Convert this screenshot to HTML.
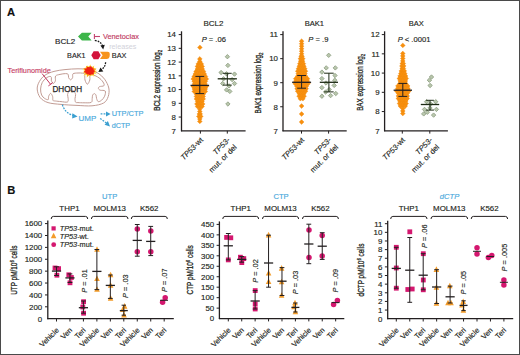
<!DOCTYPE html>
<html><head><meta charset="utf-8"><style>
html,body{margin:0;padding:0;background:#fff;}
svg{display:block;font-family:"Liberation Sans", sans-serif;}
</style></head><body>
<svg width="520" height="355" viewBox="0 0 520 355">
<rect x="0" y="0" width="520" height="355" fill="#ffffff"/>
<text x="7.00" y="16.20" font-size="11.2" fill="#111" text-anchor="start" stroke="#111" stroke-width="0.15" font-weight="bold">A</text>
<text x="7.30" y="193.80" font-size="11.2" fill="#111" text-anchor="start" stroke="#111" stroke-width="0.15" font-weight="bold">B</text>
<text x="55.00" y="43.50" font-size="8" fill="#1e1e1e" text-anchor="start" stroke="#1e1e1e" stroke-width="0.15" textLength="20.20" lengthAdjust="spacingAndGlyphs">BCL2</text>
<text x="67.10" y="57.70" font-size="8" fill="#1e1e1e" text-anchor="start" stroke="#1e1e1e" stroke-width="0.15" textLength="18.50" lengthAdjust="spacingAndGlyphs">BAK1</text>
<text x="111.80" y="57.70" font-size="8" fill="#1e1e1e" text-anchor="start" stroke="#1e1e1e" stroke-width="0.15" textLength="14.70" lengthAdjust="spacingAndGlyphs">BAX</text>
<text x="102.90" y="39.20" font-size="8" fill="#c23a62" text-anchor="start" stroke="#c23a62" stroke-width="0.15" textLength="36.10" lengthAdjust="spacingAndGlyphs">Venetoclax</text>
<text x="109.20" y="48.70" font-size="7.4" fill="#d2d2da" text-anchor="start" textLength="27.20" lengthAdjust="spacingAndGlyphs">releases</text>
<text x="7.50" y="72.90" font-size="8" fill="#c63c64" text-anchor="start" stroke="#c63c64" stroke-width="0.15" textLength="43.30" lengthAdjust="spacingAndGlyphs">Teriflunomide</text>
<text x="78.50" y="120.80" font-size="7.8" fill="#4aa9dc" text-anchor="start" stroke="#4aa9dc" stroke-width="0.15" textLength="17.70" lengthAdjust="spacingAndGlyphs">UMP</text>
<text x="111.70" y="115.90" font-size="7.6" fill="#4aa9dc" text-anchor="start" stroke="#4aa9dc" stroke-width="0.15" textLength="31.80" lengthAdjust="spacingAndGlyphs">UTP/CTP</text>
<text x="111.70" y="127.70" font-size="7.6" fill="#4aa9dc" text-anchor="start" stroke="#4aa9dc" stroke-width="0.15" textLength="18.50" lengthAdjust="spacingAndGlyphs">dCTP</text>
<polygon points="78.0,36.6 81.9,32.7 91.6,32.7 88.3,36.6 91.6,40.5 81.9,40.5" fill="#3db54a"/>
<line x1="94.40" y1="34.00" x2="94.40" y2="39.00" stroke="#c2456e" stroke-width="1.1"/>
<line x1="94.40" y1="36.50" x2="100.00" y2="36.50" stroke="#c2456e" stroke-width="1.1"/>
<path d="M94.8,40.4 Q101.2,41.6 102.6,46.0" fill="none" stroke="#1a1a1a" stroke-width="1.3" stroke-dasharray="1.7,1.1"/>
<polygon points="100.4,45.4 104.8,44.8 103.2,49.4" fill="#1a1a1a"/>
<polygon points="100.70,55.20 98.35,59.27 93.65,59.27 91.30,55.20 93.65,51.13 98.35,51.13" fill="#d3143c"/>
<path d="M100.0,51.8 L107.6,51.8 Q109.9,51.8 109.8,54.0 L109.6,56.6 Q109.4,58.9 107.0,58.9 L100.0,58.9 L102.6,55.35 Z" fill="#f7941d"/>
<path d="M37.20,89.00 C37.07,86.32 38.10,83.80 39.40,81.50 C40.70,79.20 42.57,76.88 45.00,75.20 C47.43,73.52 50.67,72.33 54.00,71.40 C57.33,70.47 61.00,70.03 65.00,69.60 C69.00,69.17 74.00,68.80 78.00,68.80 C82.00,68.80 85.67,68.87 89.00,69.60 C92.33,70.33 95.40,71.60 98.00,73.20 C100.60,74.80 102.80,76.73 104.60,79.20 C106.40,81.67 108.20,85.10 108.80,88.00 C109.40,90.90 109.07,94.10 108.20,96.60 C107.33,99.10 106.30,101.47 103.60,103.00 C100.90,104.53 96.43,105.40 92.00,105.80 C87.57,106.20 82.17,105.63 77.00,105.40 C71.83,105.17 65.83,104.87 61.00,104.40 C56.17,103.93 51.47,103.73 48.00,102.60 C44.53,101.47 42.00,99.87 40.20,97.60 C38.40,95.33 37.33,91.68 37.20,89.00 Z" fill="#fff" stroke="#c29c94" stroke-width="1.0"/>
<path d="M40.60,89.00 C40.70,86.93 41.27,84.43 42.20,82.60 C43.13,80.77 44.93,79.03 46.20,78.00 C47.47,76.97 48.93,76.50 49.80,76.40 C50.67,76.30 51.13,76.67 51.40,77.40 C51.67,78.13 51.07,79.80 51.40,80.80 C51.73,81.80 52.73,83.40 53.40,83.40 C54.07,83.40 55.03,82.03 55.40,80.80 C55.77,79.57 54.83,77.07 55.60,76.00 C56.37,74.93 58.35,74.80 60.00,74.40 C61.65,74.00 64.13,73.60 65.50,73.60 C66.87,73.60 67.68,73.73 68.20,74.40 C68.72,75.07 68.20,76.70 68.60,77.60 C69.00,78.50 69.93,79.80 70.60,79.80 C71.27,79.80 72.20,78.60 72.60,77.60 C73.00,76.60 72.10,74.57 73.00,73.80 C73.90,73.03 76.42,73.10 78.00,73.00 C79.58,72.90 81.40,72.93 82.50,73.20 C83.60,73.47 84.18,73.47 84.60,74.60 C85.02,75.73 84.53,78.40 85.00,80.00 C85.47,81.60 86.60,84.20 87.40,84.20 C88.20,84.20 89.33,81.57 89.80,80.00 C90.27,78.43 89.33,75.53 90.20,74.80 C91.07,74.07 93.37,74.97 95.00,75.60 C96.63,76.23 98.57,77.37 100.00,78.60 C101.43,79.83 102.97,81.80 103.60,83.00 C104.23,84.20 104.47,85.20 103.80,85.80 C103.13,86.40 100.50,86.17 99.60,86.60 C98.70,87.03 98.30,87.80 98.40,88.40 C98.50,89.00 99.07,89.77 100.20,90.20 C101.33,90.63 104.47,90.00 105.20,91.00 C105.93,92.00 105.20,94.67 104.60,96.20 C104.00,97.73 102.67,99.30 101.60,100.20 C100.53,101.10 99.03,101.87 98.20,101.60 C97.37,101.33 96.97,99.67 96.60,98.60 C96.23,97.53 96.37,96.03 96.00,95.20 C95.63,94.37 94.97,93.60 94.40,93.60 C93.83,93.60 92.97,94.37 92.60,95.20 C92.23,96.03 92.43,97.40 92.20,98.60 C91.97,99.80 92.57,101.70 91.20,102.40 C89.83,103.10 86.20,102.77 84.00,102.80 C81.80,102.83 79.40,102.70 78.00,102.60 C76.60,102.50 76.10,102.87 75.60,102.20 C75.10,101.53 75.00,99.90 75.00,98.60 C75.00,97.30 75.87,95.70 75.60,94.40 C75.33,93.10 74.37,91.40 73.40,90.80 C72.43,90.20 70.77,90.20 69.80,90.80 C68.83,91.40 67.87,93.10 67.60,94.40 C67.33,95.70 68.23,97.33 68.20,98.60 C68.17,99.87 68.60,101.50 67.40,102.00 C66.20,102.50 63.00,101.77 61.00,101.60 C59.00,101.43 56.73,101.20 55.40,101.00 C54.07,100.80 53.47,101.17 53.00,100.40 C52.53,99.63 53.00,97.57 52.60,96.40 C52.20,95.23 51.27,93.40 50.60,93.40 C49.93,93.40 49.00,95.37 48.60,96.40 C48.20,97.43 48.87,99.27 48.20,99.60 C47.53,99.93 45.70,99.17 44.60,98.40 C43.50,97.63 42.27,96.57 41.60,95.00 C40.93,93.43 40.50,91.07 40.60,89.00 Z" fill="#fff" stroke="#c29c94" stroke-width="1.0"/>
<line x1="42.10" y1="73.60" x2="50.60" y2="84.30" stroke="#c2355e" stroke-width="1.0"/>
<line x1="48.40" y1="85.90" x2="52.80" y2="82.60" stroke="#c2355e" stroke-width="1.0"/>
<text x="52.40" y="91.70" font-size="8.2" fill="#262626" text-anchor="start" stroke="#262626" stroke-width="0.25" textLength="29.80" lengthAdjust="spacingAndGlyphs">DHODH</text>
<polygon points="97.59,71.10 94.79,72.15 97.03,74.32 93.76,74.11 94.33,76.72 91.62,75.34 90.49,76.57 89.10,75.26 86.65,77.84 86.77,74.66 83.33,75.83 85.55,72.93 82.37,72.61 84.89,71.10 82.21,69.55 85.19,69.12 84.80,67.47 86.98,67.80 87.17,65.51 89.05,66.61 90.69,64.27 91.38,67.39 94.40,65.39 93.23,68.48 96.68,68.03 94.26,70.16" fill="#fde65c"/>
<polygon points="96.19,72.09 93.89,72.85 93.96,74.47 92.18,74.73 90.92,75.64 89.32,75.05 87.05,76.85 86.89,74.06 84.13,74.45 84.90,72.50 83.73,71.41 84.84,70.21 83.23,68.25 86.08,68.20 86.04,65.84 88.54,67.27 89.96,65.87 91.16,67.42 93.60,66.49 93.79,68.36 96.10,68.93 94.75,70.64" fill="#f9a01c"/>
<polygon points="94.84,71.34 93.55,72.50 93.74,74.47 91.39,74.35 89.89,75.19 88.36,74.21 86.48,74.35 86.04,72.83 83.53,72.15 85.40,70.56 84.26,68.82 86.59,68.44 87.27,66.84 89.18,67.36 91.22,65.89 92.09,67.94 93.59,68.61 93.59,70.05" fill="#f01e14"/>
<path d="M105.6,62.2 Q105.2,67.6 101.2,69.6" fill="none" stroke="#1a1a1a" stroke-width="1.3" stroke-dasharray="1.7,1.1"/>
<polygon points="100.5,67.6 103.3,71.6 98.3,71.9" fill="#1a1a1a"/>
<path d="M62.4,104.6 Q64.6,112.8 73.6,115.6" fill="none" stroke="#3a9fd0" stroke-width="1.3" stroke-dasharray="1.8,1.2"/>
<polygon points="72.4,113.2 77.6,116.6 72.2,118.4" fill="#3a9fd0"/>
<path d="M100.6,113.9 L106.8,113.9" fill="none" stroke="#3a9fd0" stroke-width="1.3" stroke-dasharray="1.8,1.2"/>
<polygon points="106.0,111.4 110.6,113.9 106.0,116.4" fill="#3a9fd0"/>
<path d="M100.2,118.4 L106.6,123.2" fill="none" stroke="#3a9fd0" stroke-width="1.3" stroke-dasharray="1.8,1.2"/>
<polygon points="104.6,124.8 107.9,121.0 110.0,126.4" fill="#3a9fd0"/>
<polygon points="199.80,56.50 202.20,58.90 199.80,61.30 197.40,58.90" fill="#f8900f" stroke="#ee880c" stroke-width="0.35"/>
<polygon points="199.80,59.00 202.20,61.40 199.80,63.80 197.40,61.40" fill="#f8900f" stroke="#ee880c" stroke-width="0.35"/>
<polygon points="198.26,61.50 200.66,63.90 198.26,66.30 195.86,63.90" fill="#f8900f" stroke="#ee880c" stroke-width="0.35"/>
<polygon points="199.80,61.50 202.20,63.90 199.80,66.30 197.40,63.90" fill="#f8900f" stroke="#ee880c" stroke-width="0.35"/>
<polygon points="201.34,61.50 203.74,63.90 201.34,66.30 198.94,63.90" fill="#f8900f" stroke="#ee880c" stroke-width="0.35"/>
<polygon points="197.43,64.00 199.83,66.40 197.43,68.80 195.03,66.40" fill="#f8900f" stroke="#ee880c" stroke-width="0.35"/>
<polygon points="199.80,64.00 202.20,66.40 199.80,68.80 197.40,66.40" fill="#f8900f" stroke="#ee880c" stroke-width="0.35"/>
<polygon points="202.17,64.00 204.57,66.40 202.17,68.80 199.77,66.40" fill="#f8900f" stroke="#ee880c" stroke-width="0.35"/>
<polygon points="197.36,66.50 199.76,68.90 197.36,71.30 194.96,68.90" fill="#f8900f" stroke="#ee880c" stroke-width="0.35"/>
<polygon points="199.80,66.50 202.20,68.90 199.80,71.30 197.40,68.90" fill="#f8900f" stroke="#ee880c" stroke-width="0.35"/>
<polygon points="202.24,66.50 204.64,68.90 202.24,71.30 199.84,68.90" fill="#f8900f" stroke="#ee880c" stroke-width="0.35"/>
<polygon points="196.09,69.00 198.49,71.40 196.09,73.80 193.69,71.40" fill="#f8900f" stroke="#ee880c" stroke-width="0.35"/>
<polygon points="198.56,69.00 200.96,71.40 198.56,73.80 196.16,71.40" fill="#f8900f" stroke="#ee880c" stroke-width="0.35"/>
<polygon points="201.04,69.00 203.44,71.40 201.04,73.80 198.64,71.40" fill="#f8900f" stroke="#ee880c" stroke-width="0.35"/>
<polygon points="203.51,69.00 205.91,71.40 203.51,73.80 201.11,71.40" fill="#f8900f" stroke="#ee880c" stroke-width="0.35"/>
<polygon points="195.27,71.50 197.67,73.90 195.27,76.30 192.87,73.90" fill="#f8900f" stroke="#ee880c" stroke-width="0.35"/>
<polygon points="197.53,71.50 199.93,73.90 197.53,76.30 195.13,73.90" fill="#f8900f" stroke="#ee880c" stroke-width="0.35"/>
<polygon points="199.80,71.50 202.20,73.90 199.80,76.30 197.40,73.90" fill="#f8900f" stroke="#ee880c" stroke-width="0.35"/>
<polygon points="202.07,71.50 204.47,73.90 202.07,76.30 199.67,73.90" fill="#f8900f" stroke="#ee880c" stroke-width="0.35"/>
<polygon points="204.33,71.50 206.73,73.90 204.33,76.30 201.93,73.90" fill="#f8900f" stroke="#ee880c" stroke-width="0.35"/>
<polygon points="194.16,74.00 196.56,76.40 194.16,78.80 191.76,76.40" fill="#f8900f" stroke="#ee880c" stroke-width="0.35"/>
<polygon points="196.42,74.00 198.82,76.40 196.42,78.80 194.02,76.40" fill="#f8900f" stroke="#ee880c" stroke-width="0.35"/>
<polygon points="198.67,74.00 201.07,76.40 198.67,78.80 196.27,76.40" fill="#f8900f" stroke="#ee880c" stroke-width="0.35"/>
<polygon points="200.93,74.00 203.33,76.40 200.93,78.80 198.53,76.40" fill="#f8900f" stroke="#ee880c" stroke-width="0.35"/>
<polygon points="203.18,74.00 205.58,76.40 203.18,78.80 200.78,76.40" fill="#f8900f" stroke="#ee880c" stroke-width="0.35"/>
<polygon points="205.44,74.00 207.84,76.40 205.44,78.80 203.04,76.40" fill="#f8900f" stroke="#ee880c" stroke-width="0.35"/>
<polygon points="193.21,76.50 195.61,78.90 193.21,81.30 190.81,78.90" fill="#f8900f" stroke="#ee880c" stroke-width="0.35"/>
<polygon points="195.85,76.50 198.25,78.90 195.85,81.30 193.45,78.90" fill="#f8900f" stroke="#ee880c" stroke-width="0.35"/>
<polygon points="198.48,76.50 200.88,78.90 198.48,81.30 196.08,78.90" fill="#f8900f" stroke="#ee880c" stroke-width="0.35"/>
<polygon points="201.12,76.50 203.52,78.90 201.12,81.30 198.72,78.90" fill="#f8900f" stroke="#ee880c" stroke-width="0.35"/>
<polygon points="203.75,76.50 206.15,78.90 203.75,81.30 201.35,78.90" fill="#f8900f" stroke="#ee880c" stroke-width="0.35"/>
<polygon points="206.39,76.50 208.79,78.90 206.39,81.30 203.99,78.90" fill="#f8900f" stroke="#ee880c" stroke-width="0.35"/>
<polygon points="194.24,79.00 196.64,81.40 194.24,83.80 191.84,81.40" fill="#f8900f" stroke="#ee880c" stroke-width="0.35"/>
<polygon points="196.47,79.00 198.87,81.40 196.47,83.80 194.07,81.40" fill="#f8900f" stroke="#ee880c" stroke-width="0.35"/>
<polygon points="198.69,79.00 201.09,81.40 198.69,83.80 196.29,81.40" fill="#f8900f" stroke="#ee880c" stroke-width="0.35"/>
<polygon points="200.91,79.00 203.31,81.40 200.91,83.80 198.51,81.40" fill="#f8900f" stroke="#ee880c" stroke-width="0.35"/>
<polygon points="203.13,79.00 205.53,81.40 203.13,83.80 200.73,81.40" fill="#f8900f" stroke="#ee880c" stroke-width="0.35"/>
<polygon points="205.36,79.00 207.76,81.40 205.36,83.80 202.96,81.40" fill="#f8900f" stroke="#ee880c" stroke-width="0.35"/>
<polygon points="194.47,81.50 196.87,83.90 194.47,86.30 192.07,83.90" fill="#f8900f" stroke="#ee880c" stroke-width="0.35"/>
<polygon points="197.14,81.50 199.54,83.90 197.14,86.30 194.74,83.90" fill="#f8900f" stroke="#ee880c" stroke-width="0.35"/>
<polygon points="199.80,81.50 202.20,83.90 199.80,86.30 197.40,83.90" fill="#f8900f" stroke="#ee880c" stroke-width="0.35"/>
<polygon points="202.46,81.50 204.86,83.90 202.46,86.30 200.06,83.90" fill="#f8900f" stroke="#ee880c" stroke-width="0.35"/>
<polygon points="205.13,81.50 207.53,83.90 205.13,86.30 202.73,83.90" fill="#f8900f" stroke="#ee880c" stroke-width="0.35"/>
<polygon points="193.30,84.00 195.70,86.40 193.30,88.80 190.90,86.40" fill="#f8900f" stroke="#ee880c" stroke-width="0.35"/>
<polygon points="195.90,84.00 198.30,86.40 195.90,88.80 193.50,86.40" fill="#f8900f" stroke="#ee880c" stroke-width="0.35"/>
<polygon points="198.50,84.00 200.90,86.40 198.50,88.80 196.10,86.40" fill="#f8900f" stroke="#ee880c" stroke-width="0.35"/>
<polygon points="201.10,84.00 203.50,86.40 201.10,88.80 198.70,86.40" fill="#f8900f" stroke="#ee880c" stroke-width="0.35"/>
<polygon points="203.70,84.00 206.10,86.40 203.70,88.80 201.30,86.40" fill="#f8900f" stroke="#ee880c" stroke-width="0.35"/>
<polygon points="206.30,84.00 208.70,86.40 206.30,88.80 203.90,86.40" fill="#f8900f" stroke="#ee880c" stroke-width="0.35"/>
<polygon points="194.27,86.50 196.67,88.90 194.27,91.30 191.87,88.90" fill="#f8900f" stroke="#ee880c" stroke-width="0.35"/>
<polygon points="196.48,86.50 198.88,88.90 196.48,91.30 194.08,88.90" fill="#f8900f" stroke="#ee880c" stroke-width="0.35"/>
<polygon points="198.69,86.50 201.09,88.90 198.69,91.30 196.29,88.90" fill="#f8900f" stroke="#ee880c" stroke-width="0.35"/>
<polygon points="200.91,86.50 203.31,88.90 200.91,91.30 198.51,88.90" fill="#f8900f" stroke="#ee880c" stroke-width="0.35"/>
<polygon points="203.12,86.50 205.52,88.90 203.12,91.30 200.72,88.90" fill="#f8900f" stroke="#ee880c" stroke-width="0.35"/>
<polygon points="205.33,86.50 207.73,88.90 205.33,91.30 202.93,88.90" fill="#f8900f" stroke="#ee880c" stroke-width="0.35"/>
<polygon points="194.26,89.00 196.66,91.40 194.26,93.80 191.86,91.40" fill="#f8900f" stroke="#ee880c" stroke-width="0.35"/>
<polygon points="196.47,89.00 198.87,91.40 196.47,93.80 194.07,91.40" fill="#f8900f" stroke="#ee880c" stroke-width="0.35"/>
<polygon points="198.69,89.00 201.09,91.40 198.69,93.80 196.29,91.40" fill="#f8900f" stroke="#ee880c" stroke-width="0.35"/>
<polygon points="200.91,89.00 203.31,91.40 200.91,93.80 198.51,91.40" fill="#f8900f" stroke="#ee880c" stroke-width="0.35"/>
<polygon points="203.13,89.00 205.53,91.40 203.13,93.80 200.73,91.40" fill="#f8900f" stroke="#ee880c" stroke-width="0.35"/>
<polygon points="205.34,89.00 207.74,91.40 205.34,93.80 202.94,91.40" fill="#f8900f" stroke="#ee880c" stroke-width="0.35"/>
<polygon points="196.20,91.50 198.60,93.90 196.20,96.30 193.80,93.90" fill="#f8900f" stroke="#ee880c" stroke-width="0.35"/>
<polygon points="198.60,91.50 201.00,93.90 198.60,96.30 196.20,93.90" fill="#f8900f" stroke="#ee880c" stroke-width="0.35"/>
<polygon points="201.00,91.50 203.40,93.90 201.00,96.30 198.60,93.90" fill="#f8900f" stroke="#ee880c" stroke-width="0.35"/>
<polygon points="203.40,91.50 205.80,93.90 203.40,96.30 201.00,93.90" fill="#f8900f" stroke="#ee880c" stroke-width="0.35"/>
<polygon points="196.39,94.00 198.79,96.40 196.39,98.80 193.99,96.40" fill="#f8900f" stroke="#ee880c" stroke-width="0.35"/>
<polygon points="198.66,94.00 201.06,96.40 198.66,98.80 196.26,96.40" fill="#f8900f" stroke="#ee880c" stroke-width="0.35"/>
<polygon points="200.94,94.00 203.34,96.40 200.94,98.80 198.54,96.40" fill="#f8900f" stroke="#ee880c" stroke-width="0.35"/>
<polygon points="203.21,94.00 205.61,96.40 203.21,98.80 200.81,96.40" fill="#f8900f" stroke="#ee880c" stroke-width="0.35"/>
<polygon points="196.38,96.50 198.78,98.90 196.38,101.30 193.98,98.90" fill="#f8900f" stroke="#ee880c" stroke-width="0.35"/>
<polygon points="198.66,96.50 201.06,98.90 198.66,101.30 196.26,98.90" fill="#f8900f" stroke="#ee880c" stroke-width="0.35"/>
<polygon points="200.94,96.50 203.34,98.90 200.94,101.30 198.54,98.90" fill="#f8900f" stroke="#ee880c" stroke-width="0.35"/>
<polygon points="203.22,96.50 205.62,98.90 203.22,101.30 200.82,98.90" fill="#f8900f" stroke="#ee880c" stroke-width="0.35"/>
<polygon points="197.60,99.00 200.00,101.40 197.60,103.80 195.20,101.40" fill="#f8900f" stroke="#ee880c" stroke-width="0.35"/>
<polygon points="199.80,99.00 202.20,101.40 199.80,103.80 197.40,101.40" fill="#f8900f" stroke="#ee880c" stroke-width="0.35"/>
<polygon points="202.00,99.00 204.40,101.40 202.00,103.80 199.60,101.40" fill="#f8900f" stroke="#ee880c" stroke-width="0.35"/>
<polygon points="196.89,101.50 199.29,103.90 196.89,106.30 194.49,103.90" fill="#f8900f" stroke="#ee880c" stroke-width="0.35"/>
<polygon points="198.83,101.50 201.23,103.90 198.83,106.30 196.43,103.90" fill="#f8900f" stroke="#ee880c" stroke-width="0.35"/>
<polygon points="200.77,101.50 203.17,103.90 200.77,106.30 198.37,103.90" fill="#f8900f" stroke="#ee880c" stroke-width="0.35"/>
<polygon points="202.71,101.50 205.11,103.90 202.71,106.30 200.31,103.90" fill="#f8900f" stroke="#ee880c" stroke-width="0.35"/>
<polygon points="197.52,104.00 199.92,106.40 197.52,108.80 195.12,106.40" fill="#f8900f" stroke="#ee880c" stroke-width="0.35"/>
<polygon points="199.80,104.00 202.20,106.40 199.80,108.80 197.40,106.40" fill="#f8900f" stroke="#ee880c" stroke-width="0.35"/>
<polygon points="202.08,104.00 204.48,106.40 202.08,108.80 199.68,106.40" fill="#f8900f" stroke="#ee880c" stroke-width="0.35"/>
<polygon points="199.80,106.50 202.20,108.90 199.80,111.30 197.40,108.90" fill="#f8900f" stroke="#ee880c" stroke-width="0.35"/>
<polygon points="199.80,109.00 202.20,111.40 199.80,113.80 197.40,111.40" fill="#f8900f" stroke="#ee880c" stroke-width="0.35"/>
<polygon points="199.35,111.50 201.75,113.90 199.35,116.30 196.95,113.90" fill="#f8900f" stroke="#ee880c" stroke-width="0.35"/>
<polygon points="200.25,111.50 202.65,113.90 200.25,116.30 197.85,113.90" fill="#f8900f" stroke="#ee880c" stroke-width="0.35"/>
<polygon points="198.83,114.00 201.23,116.40 198.83,118.80 196.43,116.40" fill="#f8900f" stroke="#ee880c" stroke-width="0.35"/>
<polygon points="200.77,114.00 203.17,116.40 200.77,118.80 198.37,116.40" fill="#f8900f" stroke="#ee880c" stroke-width="0.35"/>
<polygon points="199.80,116.50 202.20,118.90 199.80,121.30 197.40,118.90" fill="#f8900f" stroke="#ee880c" stroke-width="0.35"/>
<polygon points="199.80,119.00 202.20,121.40 199.80,123.80 197.40,121.40" fill="#f8900f" stroke="#ee880c" stroke-width="0.35"/>
<polygon points="199.90,45.00 202.30,47.40 199.90,49.80 197.50,47.40" fill="#f8900f" stroke="#ee880c" stroke-width="0.35"/>
<polygon points="227.40,54.50 229.60,56.70 227.40,58.90 225.20,56.70" fill="#b9c6ad" stroke="#8a9c7e" stroke-width="0.8"/>
<polygon points="227.90,63.20 230.10,65.40 227.90,67.60 225.70,65.40" fill="#b9c6ad" stroke="#8a9c7e" stroke-width="0.8"/>
<polygon points="221.10,70.30 223.30,72.50 221.10,74.70 218.90,72.50" fill="#b9c6ad" stroke="#8a9c7e" stroke-width="0.8"/>
<polygon points="226.50,71.60 228.70,73.80 226.50,76.00 224.30,73.80" fill="#b9c6ad" stroke="#8a9c7e" stroke-width="0.8"/>
<polygon points="234.50,71.90 236.70,74.10 234.50,76.30 232.30,74.10" fill="#b9c6ad" stroke="#8a9c7e" stroke-width="0.8"/>
<polygon points="223.50,76.60 225.70,78.80 223.50,81.00 221.30,78.80" fill="#b9c6ad" stroke="#8a9c7e" stroke-width="0.8"/>
<polygon points="232.10,77.40 234.30,79.60 232.10,81.80 229.90,79.60" fill="#b9c6ad" stroke="#8a9c7e" stroke-width="0.8"/>
<polygon points="222.70,81.30 224.90,83.50 222.70,85.70 220.50,83.50" fill="#b9c6ad" stroke="#8a9c7e" stroke-width="0.8"/>
<polygon points="234.50,81.30 236.70,83.50 234.50,85.70 232.30,83.50" fill="#b9c6ad" stroke="#8a9c7e" stroke-width="0.8"/>
<polygon points="229.00,83.70 231.20,85.90 229.00,88.10 226.80,85.90" fill="#b9c6ad" stroke="#8a9c7e" stroke-width="0.8"/>
<polygon points="226.60,87.70 228.80,89.90 226.60,92.10 224.40,89.90" fill="#b9c6ad" stroke="#8a9c7e" stroke-width="0.8"/>
<polygon points="229.80,89.20 232.00,91.40 229.80,93.60 227.60,91.40" fill="#b9c6ad" stroke="#8a9c7e" stroke-width="0.8"/>
<polygon points="227.90,101.80 230.10,104.00 227.90,106.20 225.70,104.00" fill="#b9c6ad" stroke="#8a9c7e" stroke-width="0.8"/>
<line x1="199.80" y1="76.40" x2="199.80" y2="93.60" stroke="#231f20" stroke-width="1.0"/>
<line x1="190.50" y1="85.40" x2="209.10" y2="85.40" stroke="#231f20" stroke-width="1.3"/>
<line x1="195.40" y1="76.40" x2="204.20" y2="76.40" stroke="#231f20" stroke-width="1.0"/>
<line x1="195.40" y1="93.60" x2="204.20" y2="93.60" stroke="#231f20" stroke-width="1.0"/>
<line x1="227.30" y1="73.30" x2="227.30" y2="85.10" stroke="#1d2a14" stroke-width="1.0"/>
<line x1="217.70" y1="78.80" x2="236.90" y2="78.80" stroke="#1d2a14" stroke-width="1.3"/>
<line x1="222.90" y1="73.30" x2="231.70" y2="73.30" stroke="#1d2a14" stroke-width="1.0"/>
<line x1="222.90" y1="85.10" x2="231.70" y2="85.10" stroke="#1d2a14" stroke-width="1.0"/>
<line x1="181.50" y1="31.30" x2="181.50" y2="131.30" stroke="#231f20" stroke-width="1.3"/>
<line x1="181.00" y1="130.80" x2="245.60" y2="130.80" stroke="#231f20" stroke-width="1.3"/>
<text x="176.00" y="133.60" font-size="7.9" fill="#231f20" text-anchor="end" stroke="#231f20" stroke-width="0.15">7</text>
<line x1="178.70" y1="117.06" x2="181.50" y2="117.06" stroke="#231f20" stroke-width="1.0"/>
<text x="176.00" y="119.86" font-size="7.9" fill="#231f20" text-anchor="end" stroke="#231f20" stroke-width="0.15">8</text>
<line x1="178.70" y1="103.31" x2="181.50" y2="103.31" stroke="#231f20" stroke-width="1.0"/>
<text x="176.00" y="106.11" font-size="7.9" fill="#231f20" text-anchor="end" stroke="#231f20" stroke-width="0.15">9</text>
<line x1="178.70" y1="89.57" x2="181.50" y2="89.57" stroke="#231f20" stroke-width="1.0"/>
<text x="176.00" y="92.37" font-size="7.9" fill="#231f20" text-anchor="end" stroke="#231f20" stroke-width="0.15">10</text>
<line x1="178.70" y1="75.83" x2="181.50" y2="75.83" stroke="#231f20" stroke-width="1.0"/>
<text x="176.00" y="78.63" font-size="7.9" fill="#231f20" text-anchor="end" stroke="#231f20" stroke-width="0.15">11</text>
<line x1="178.70" y1="62.09" x2="181.50" y2="62.09" stroke="#231f20" stroke-width="1.0"/>
<text x="176.00" y="64.89" font-size="7.9" fill="#231f20" text-anchor="end" stroke="#231f20" stroke-width="0.15">12</text>
<line x1="178.70" y1="48.34" x2="181.50" y2="48.34" stroke="#231f20" stroke-width="1.0"/>
<text x="176.00" y="51.14" font-size="7.9" fill="#231f20" text-anchor="end" stroke="#231f20" stroke-width="0.15">13</text>
<line x1="178.70" y1="34.60" x2="181.50" y2="34.60" stroke="#231f20" stroke-width="1.0"/>
<text x="176.00" y="37.40" font-size="7.9" fill="#231f20" text-anchor="end" stroke="#231f20" stroke-width="0.15">14</text>
<line x1="200.40" y1="130.80" x2="200.40" y2="133.60" stroke="#231f20" stroke-width="1.0"/>
<line x1="227.30" y1="130.80" x2="227.30" y2="133.60" stroke="#231f20" stroke-width="1.0"/>
<text x="213.50" y="26.40" font-size="7.6" fill="#231f20" text-anchor="middle" stroke="#231f20" stroke-width="0.15" textLength="20.00" lengthAdjust="spacingAndGlyphs">BCL2</text>
<text x="213.80" y="42.00" font-size="7.6" fill="#231f20" text-anchor="middle" stroke="#231f20" stroke-width="0.15"><tspan font-style="italic">P</tspan> = .06</text>
<text x="0.00" y="0.00" font-size="7.6" fill="#231f20" text-anchor="end" stroke="#231f20" stroke-width="0.15" transform="translate(203.70,140.50) rotate(-45)"><tspan font-style="italic">TP53</tspan>-wt</text>
<text x="0.00" y="0.00" font-size="7.6" fill="#231f20" text-anchor="end" stroke="#231f20" stroke-width="0.15" transform="translate(230.60,140.50) rotate(-45)"><tspan font-style="italic">TP53</tspan>-</text>
<text x="0.00" y="0.00" font-size="7.6" fill="#231f20" text-anchor="end" stroke="#231f20" stroke-width="0.15" transform="translate(237.30,147.60) rotate(-45)">mut. or del</text>
<text x="0.00" y="0.00" font-size="8.8" fill="#231f20" text-anchor="middle" stroke="#231f20" stroke-width="0.3" textLength="61.00" lengthAdjust="spacingAndGlyphs" transform="translate(159.8,80.3) rotate(-90)">BCL2 expression log<tspan font-size="6.0" dy="1.8">2</tspan></text>
<polygon points="301.60,38.80 304.00,41.20 301.60,43.60 299.20,41.20" fill="#f8900f" stroke="#ee880c" stroke-width="0.35"/>
<polygon points="301.60,41.30 304.00,43.70 301.60,46.10 299.20,43.70" fill="#f8900f" stroke="#ee880c" stroke-width="0.35"/>
<polygon points="301.60,43.80 304.00,46.20 301.60,48.60 299.20,46.20" fill="#f8900f" stroke="#ee880c" stroke-width="0.35"/>
<polygon points="301.60,46.30 304.00,48.70 301.60,51.10 299.20,48.70" fill="#f8900f" stroke="#ee880c" stroke-width="0.35"/>
<polygon points="301.60,48.80 304.00,51.20 301.60,53.60 299.20,51.20" fill="#f8900f" stroke="#ee880c" stroke-width="0.35"/>
<polygon points="301.60,51.30 304.00,53.70 301.60,56.10 299.20,53.70" fill="#f8900f" stroke="#ee880c" stroke-width="0.35"/>
<polygon points="301.17,53.80 303.57,56.20 301.17,58.60 298.77,56.20" fill="#f8900f" stroke="#ee880c" stroke-width="0.35"/>
<polygon points="302.03,53.80 304.43,56.20 302.03,58.60 299.63,56.20" fill="#f8900f" stroke="#ee880c" stroke-width="0.35"/>
<polygon points="300.43,56.30 302.83,58.70 300.43,61.10 298.03,58.70" fill="#f8900f" stroke="#ee880c" stroke-width="0.35"/>
<polygon points="302.77,56.30 305.17,58.70 302.77,61.10 300.37,58.70" fill="#f8900f" stroke="#ee880c" stroke-width="0.35"/>
<polygon points="300.58,58.80 302.98,61.20 300.58,63.60 298.18,61.20" fill="#f8900f" stroke="#ee880c" stroke-width="0.35"/>
<polygon points="302.62,58.80 305.02,61.20 302.62,63.60 300.22,61.20" fill="#f8900f" stroke="#ee880c" stroke-width="0.35"/>
<polygon points="299.76,61.30 302.16,63.70 299.76,66.10 297.36,63.70" fill="#f8900f" stroke="#ee880c" stroke-width="0.35"/>
<polygon points="301.60,61.30 304.00,63.70 301.60,66.10 299.20,63.70" fill="#f8900f" stroke="#ee880c" stroke-width="0.35"/>
<polygon points="303.44,61.30 305.84,63.70 303.44,66.10 301.04,63.70" fill="#f8900f" stroke="#ee880c" stroke-width="0.35"/>
<polygon points="299.31,63.80 301.71,66.20 299.31,68.60 296.91,66.20" fill="#f8900f" stroke="#ee880c" stroke-width="0.35"/>
<polygon points="301.60,63.80 304.00,66.20 301.60,68.60 299.20,66.20" fill="#f8900f" stroke="#ee880c" stroke-width="0.35"/>
<polygon points="303.89,63.80 306.29,66.20 303.89,68.60 301.49,66.20" fill="#f8900f" stroke="#ee880c" stroke-width="0.35"/>
<polygon points="298.46,66.30 300.86,68.70 298.46,71.10 296.06,68.70" fill="#f8900f" stroke="#ee880c" stroke-width="0.35"/>
<polygon points="300.55,66.30 302.95,68.70 300.55,71.10 298.15,68.70" fill="#f8900f" stroke="#ee880c" stroke-width="0.35"/>
<polygon points="302.65,66.30 305.05,68.70 302.65,71.10 300.25,68.70" fill="#f8900f" stroke="#ee880c" stroke-width="0.35"/>
<polygon points="304.74,66.30 307.14,68.70 304.74,71.10 302.34,68.70" fill="#f8900f" stroke="#ee880c" stroke-width="0.35"/>
<polygon points="297.71,68.80 300.11,71.20 297.71,73.60 295.31,71.20" fill="#f8900f" stroke="#ee880c" stroke-width="0.35"/>
<polygon points="300.30,68.80 302.70,71.20 300.30,73.60 297.90,71.20" fill="#f8900f" stroke="#ee880c" stroke-width="0.35"/>
<polygon points="302.90,68.80 305.30,71.20 302.90,73.60 300.50,71.20" fill="#f8900f" stroke="#ee880c" stroke-width="0.35"/>
<polygon points="305.49,68.80 307.89,71.20 305.49,73.60 303.09,71.20" fill="#f8900f" stroke="#ee880c" stroke-width="0.35"/>
<polygon points="298.23,71.30 300.63,73.70 298.23,76.10 295.83,73.70" fill="#f8900f" stroke="#ee880c" stroke-width="0.35"/>
<polygon points="300.48,71.30 302.88,73.70 300.48,76.10 298.08,73.70" fill="#f8900f" stroke="#ee880c" stroke-width="0.35"/>
<polygon points="302.72,71.30 305.12,73.70 302.72,76.10 300.32,73.70" fill="#f8900f" stroke="#ee880c" stroke-width="0.35"/>
<polygon points="304.97,71.30 307.37,73.70 304.97,76.10 302.57,73.70" fill="#f8900f" stroke="#ee880c" stroke-width="0.35"/>
<polygon points="297.67,73.80 300.07,76.20 297.67,78.60 295.27,76.20" fill="#f8900f" stroke="#ee880c" stroke-width="0.35"/>
<polygon points="300.29,73.80 302.69,76.20 300.29,78.60 297.89,76.20" fill="#f8900f" stroke="#ee880c" stroke-width="0.35"/>
<polygon points="302.91,73.80 305.31,76.20 302.91,78.60 300.51,76.20" fill="#f8900f" stroke="#ee880c" stroke-width="0.35"/>
<polygon points="305.53,73.80 307.93,76.20 305.53,78.60 303.13,76.20" fill="#f8900f" stroke="#ee880c" stroke-width="0.35"/>
<polygon points="295.72,76.30 298.12,78.70 295.72,81.10 293.32,78.70" fill="#f8900f" stroke="#ee880c" stroke-width="0.35"/>
<polygon points="298.07,76.30 300.47,78.70 298.07,81.10 295.67,78.70" fill="#f8900f" stroke="#ee880c" stroke-width="0.35"/>
<polygon points="300.42,76.30 302.82,78.70 300.42,81.10 298.02,78.70" fill="#f8900f" stroke="#ee880c" stroke-width="0.35"/>
<polygon points="302.78,76.30 305.18,78.70 302.78,81.10 300.38,78.70" fill="#f8900f" stroke="#ee880c" stroke-width="0.35"/>
<polygon points="305.13,76.30 307.53,78.70 305.13,81.10 302.73,78.70" fill="#f8900f" stroke="#ee880c" stroke-width="0.35"/>
<polygon points="307.48,76.30 309.88,78.70 307.48,81.10 305.08,78.70" fill="#f8900f" stroke="#ee880c" stroke-width="0.35"/>
<polygon points="295.70,78.80 298.10,81.20 295.70,83.60 293.30,81.20" fill="#f8900f" stroke="#ee880c" stroke-width="0.35"/>
<polygon points="298.06,78.80 300.46,81.20 298.06,83.60 295.66,81.20" fill="#f8900f" stroke="#ee880c" stroke-width="0.35"/>
<polygon points="300.42,78.80 302.82,81.20 300.42,83.60 298.02,81.20" fill="#f8900f" stroke="#ee880c" stroke-width="0.35"/>
<polygon points="302.78,78.80 305.18,81.20 302.78,83.60 300.38,81.20" fill="#f8900f" stroke="#ee880c" stroke-width="0.35"/>
<polygon points="305.14,78.80 307.54,81.20 305.14,83.60 302.74,81.20" fill="#f8900f" stroke="#ee880c" stroke-width="0.35"/>
<polygon points="307.50,78.80 309.90,81.20 307.50,83.60 305.10,81.20" fill="#f8900f" stroke="#ee880c" stroke-width="0.35"/>
<polygon points="295.18,81.30 297.58,83.70 295.18,86.10 292.78,83.70" fill="#f8900f" stroke="#ee880c" stroke-width="0.35"/>
<polygon points="297.75,81.30 300.15,83.70 297.75,86.10 295.35,83.70" fill="#f8900f" stroke="#ee880c" stroke-width="0.35"/>
<polygon points="300.32,81.30 302.72,83.70 300.32,86.10 297.92,83.70" fill="#f8900f" stroke="#ee880c" stroke-width="0.35"/>
<polygon points="302.88,81.30 305.28,83.70 302.88,86.10 300.48,83.70" fill="#f8900f" stroke="#ee880c" stroke-width="0.35"/>
<polygon points="305.45,81.30 307.85,83.70 305.45,86.10 303.05,83.70" fill="#f8900f" stroke="#ee880c" stroke-width="0.35"/>
<polygon points="308.02,81.30 310.42,83.70 308.02,86.10 305.62,83.70" fill="#f8900f" stroke="#ee880c" stroke-width="0.35"/>
<polygon points="296.93,83.80 299.33,86.20 296.93,88.60 294.53,86.20" fill="#f8900f" stroke="#ee880c" stroke-width="0.35"/>
<polygon points="299.26,83.80 301.66,86.20 299.26,88.60 296.86,86.20" fill="#f8900f" stroke="#ee880c" stroke-width="0.35"/>
<polygon points="301.60,83.80 304.00,86.20 301.60,88.60 299.20,86.20" fill="#f8900f" stroke="#ee880c" stroke-width="0.35"/>
<polygon points="303.94,83.80 306.34,86.20 303.94,88.60 301.54,86.20" fill="#f8900f" stroke="#ee880c" stroke-width="0.35"/>
<polygon points="306.27,83.80 308.67,86.20 306.27,88.60 303.87,86.20" fill="#f8900f" stroke="#ee880c" stroke-width="0.35"/>
<polygon points="297.07,86.30 299.47,88.70 297.07,91.10 294.67,88.70" fill="#f8900f" stroke="#ee880c" stroke-width="0.35"/>
<polygon points="299.33,86.30 301.73,88.70 299.33,91.10 296.93,88.70" fill="#f8900f" stroke="#ee880c" stroke-width="0.35"/>
<polygon points="301.60,86.30 304.00,88.70 301.60,91.10 299.20,88.70" fill="#f8900f" stroke="#ee880c" stroke-width="0.35"/>
<polygon points="303.87,86.30 306.27,88.70 303.87,91.10 301.47,88.70" fill="#f8900f" stroke="#ee880c" stroke-width="0.35"/>
<polygon points="306.13,86.30 308.53,88.70 306.13,91.10 303.73,88.70" fill="#f8900f" stroke="#ee880c" stroke-width="0.35"/>
<polygon points="297.63,88.80 300.03,91.20 297.63,93.60 295.23,91.20" fill="#f8900f" stroke="#ee880c" stroke-width="0.35"/>
<polygon points="300.28,88.80 302.68,91.20 300.28,93.60 297.88,91.20" fill="#f8900f" stroke="#ee880c" stroke-width="0.35"/>
<polygon points="302.92,88.80 305.32,91.20 302.92,93.60 300.52,91.20" fill="#f8900f" stroke="#ee880c" stroke-width="0.35"/>
<polygon points="305.57,88.80 307.97,91.20 305.57,93.60 303.17,91.20" fill="#f8900f" stroke="#ee880c" stroke-width="0.35"/>
<polygon points="299.34,91.30 301.74,93.70 299.34,96.10 296.94,93.70" fill="#f8900f" stroke="#ee880c" stroke-width="0.35"/>
<polygon points="301.60,91.30 304.00,93.70 301.60,96.10 299.20,93.70" fill="#f8900f" stroke="#ee880c" stroke-width="0.35"/>
<polygon points="303.86,91.30 306.26,93.70 303.86,96.10 301.46,93.70" fill="#f8900f" stroke="#ee880c" stroke-width="0.35"/>
<polygon points="299.09,93.80 301.49,96.20 299.09,98.60 296.69,96.20" fill="#f8900f" stroke="#ee880c" stroke-width="0.35"/>
<polygon points="301.60,93.80 304.00,96.20 301.60,98.60 299.20,96.20" fill="#f8900f" stroke="#ee880c" stroke-width="0.35"/>
<polygon points="304.11,93.80 306.51,96.20 304.11,98.60 301.71,96.20" fill="#f8900f" stroke="#ee880c" stroke-width="0.35"/>
<polygon points="300.35,96.30 302.75,98.70 300.35,101.10 297.95,98.70" fill="#f8900f" stroke="#ee880c" stroke-width="0.35"/>
<polygon points="302.85,96.30 305.25,98.70 302.85,101.10 300.45,98.70" fill="#f8900f" stroke="#ee880c" stroke-width="0.35"/>
<polygon points="301.60,103.60 304.00,106.00 301.60,108.40 299.20,106.00" fill="#f8900f" stroke="#ee880c" stroke-width="0.35"/>
<polygon points="301.60,111.60 304.00,114.00 301.60,116.40 299.20,114.00" fill="#f8900f" stroke="#ee880c" stroke-width="0.35"/>
<polygon points="301.60,119.60 304.00,122.00 301.60,124.40 299.20,122.00" fill="#f8900f" stroke="#ee880c" stroke-width="0.35"/>
<polygon points="328.70,53.10 330.90,55.30 328.70,57.50 326.50,55.30" fill="#b9c6ad" stroke="#8a9c7e" stroke-width="0.8"/>
<polygon points="326.20,65.70 328.40,67.90 326.20,70.10 324.00,67.90" fill="#b9c6ad" stroke="#8a9c7e" stroke-width="0.8"/>
<polygon points="335.30,65.70 337.50,67.90 335.30,70.10 333.10,67.90" fill="#b9c6ad" stroke="#8a9c7e" stroke-width="0.8"/>
<polygon points="321.90,69.90 324.10,72.10 321.90,74.30 319.70,72.10" fill="#b9c6ad" stroke="#8a9c7e" stroke-width="0.8"/>
<polygon points="335.00,73.30 337.20,75.50 335.00,77.70 332.80,75.50" fill="#b9c6ad" stroke="#8a9c7e" stroke-width="0.8"/>
<polygon points="321.90,76.40 324.10,78.60 321.90,80.80 319.70,78.60" fill="#b9c6ad" stroke="#8a9c7e" stroke-width="0.8"/>
<polygon points="334.80,78.00 337.00,80.20 334.80,82.40 332.60,80.20" fill="#b9c6ad" stroke="#8a9c7e" stroke-width="0.8"/>
<polygon points="326.00,80.80 328.20,83.00 326.00,85.20 323.80,83.00" fill="#b9c6ad" stroke="#8a9c7e" stroke-width="0.8"/>
<polygon points="334.20,83.20 336.40,85.40 334.20,87.60 332.00,85.40" fill="#b9c6ad" stroke="#8a9c7e" stroke-width="0.8"/>
<polygon points="321.90,85.40 324.10,87.60 321.90,89.80 319.70,87.60" fill="#b9c6ad" stroke="#8a9c7e" stroke-width="0.8"/>
<polygon points="329.20,87.40 331.40,89.60 329.20,91.80 327.00,89.60" fill="#b9c6ad" stroke="#8a9c7e" stroke-width="0.8"/>
<polygon points="335.80,91.30 338.00,93.50 335.80,95.70 333.60,93.50" fill="#b9c6ad" stroke="#8a9c7e" stroke-width="0.8"/>
<polygon points="330.60,93.40 332.80,95.60 330.60,97.80 328.40,95.60" fill="#b9c6ad" stroke="#8a9c7e" stroke-width="0.8"/>
<polygon points="321.90,94.00 324.10,96.20 321.90,98.40 319.70,96.20" fill="#b9c6ad" stroke="#8a9c7e" stroke-width="0.8"/>
<polygon points="325.60,89.80 327.80,92.00 325.60,94.20 323.40,92.00" fill="#b9c6ad" stroke="#8a9c7e" stroke-width="0.8"/>
<line x1="301.60" y1="75.50" x2="301.60" y2="88.20" stroke="#231f20" stroke-width="1.0"/>
<line x1="292.10" y1="82.30" x2="311.10" y2="82.30" stroke="#231f20" stroke-width="1.3"/>
<line x1="297.20" y1="75.50" x2="306.00" y2="75.50" stroke="#231f20" stroke-width="1.0"/>
<line x1="297.20" y1="88.20" x2="306.00" y2="88.20" stroke="#231f20" stroke-width="1.0"/>
<line x1="328.90" y1="73.20" x2="328.90" y2="91.90" stroke="#1d2a14" stroke-width="1.0"/>
<line x1="319.80" y1="82.30" x2="338.00" y2="82.30" stroke="#1d2a14" stroke-width="1.3"/>
<line x1="324.10" y1="73.20" x2="333.70" y2="73.20" stroke="#1d2a14" stroke-width="1.0"/>
<line x1="324.10" y1="91.90" x2="333.70" y2="91.90" stroke="#1d2a14" stroke-width="1.0"/>
<line x1="283.00" y1="31.30" x2="283.00" y2="131.30" stroke="#231f20" stroke-width="1.3"/>
<line x1="282.50" y1="130.80" x2="346.70" y2="130.80" stroke="#231f20" stroke-width="1.3"/>
<text x="278.00" y="133.60" font-size="7.9" fill="#231f20" text-anchor="end" stroke="#231f20" stroke-width="0.15">7</text>
<line x1="280.20" y1="106.75" x2="283.00" y2="106.75" stroke="#231f20" stroke-width="1.0"/>
<text x="278.00" y="109.55" font-size="7.9" fill="#231f20" text-anchor="end" stroke="#231f20" stroke-width="0.15">8</text>
<line x1="280.20" y1="82.70" x2="283.00" y2="82.70" stroke="#231f20" stroke-width="1.0"/>
<text x="278.00" y="85.50" font-size="7.9" fill="#231f20" text-anchor="end" stroke="#231f20" stroke-width="0.15">9</text>
<line x1="280.20" y1="58.65" x2="283.00" y2="58.65" stroke="#231f20" stroke-width="1.0"/>
<text x="278.00" y="61.45" font-size="7.9" fill="#231f20" text-anchor="end" stroke="#231f20" stroke-width="0.15">10</text>
<line x1="280.20" y1="34.60" x2="283.00" y2="34.60" stroke="#231f20" stroke-width="1.0"/>
<text x="278.00" y="37.40" font-size="7.9" fill="#231f20" text-anchor="end" stroke="#231f20" stroke-width="0.15">11</text>
<line x1="301.50" y1="130.80" x2="301.50" y2="133.60" stroke="#231f20" stroke-width="1.0"/>
<line x1="328.60" y1="130.80" x2="328.60" y2="133.60" stroke="#231f20" stroke-width="1.0"/>
<text x="314.40" y="26.40" font-size="7.6" fill="#231f20" text-anchor="middle" stroke="#231f20" stroke-width="0.15" textLength="19.40" lengthAdjust="spacingAndGlyphs">BAK1</text>
<text x="318.40" y="42.00" font-size="7.6" fill="#231f20" text-anchor="middle" stroke="#231f20" stroke-width="0.15"><tspan font-style="italic">P</tspan> = .9</text>
<text x="0.00" y="0.00" font-size="7.6" fill="#231f20" text-anchor="end" stroke="#231f20" stroke-width="0.15" transform="translate(304.80,140.50) rotate(-45)"><tspan font-style="italic">TP53</tspan>-wt</text>
<text x="0.00" y="0.00" font-size="7.6" fill="#231f20" text-anchor="end" stroke="#231f20" stroke-width="0.15" transform="translate(331.90,140.50) rotate(-45)"><tspan font-style="italic">TP53</tspan>-</text>
<text x="0.00" y="0.00" font-size="7.6" fill="#231f20" text-anchor="end" stroke="#231f20" stroke-width="0.15" transform="translate(338.60,147.60) rotate(-45)">mut. or del</text>
<text x="0.00" y="0.00" font-size="8.8" fill="#231f20" text-anchor="middle" stroke="#231f20" stroke-width="0.3" textLength="61.00" lengthAdjust="spacingAndGlyphs" transform="translate(261.0,83.0) rotate(-90)">BAK1 expression log<tspan font-size="6.0" dy="1.8">2</tspan></text>
<polygon points="402.80,51.10 405.20,53.50 402.80,55.90 400.40,53.50" fill="#f8900f" stroke="#ee880c" stroke-width="0.35"/>
<polygon points="402.80,53.60 405.20,56.00 402.80,58.40 400.40,56.00" fill="#f8900f" stroke="#ee880c" stroke-width="0.35"/>
<polygon points="402.80,56.10 405.20,58.50 402.80,60.90 400.40,58.50" fill="#f8900f" stroke="#ee880c" stroke-width="0.35"/>
<polygon points="402.80,58.60 405.20,61.00 402.80,63.40 400.40,61.00" fill="#f8900f" stroke="#ee880c" stroke-width="0.35"/>
<polygon points="402.29,61.10 404.69,63.50 402.29,65.90 399.89,63.50" fill="#f8900f" stroke="#ee880c" stroke-width="0.35"/>
<polygon points="403.31,61.10 405.71,63.50 403.31,65.90 400.91,63.50" fill="#f8900f" stroke="#ee880c" stroke-width="0.35"/>
<polygon points="401.90,63.60 404.30,66.00 401.90,68.40 399.50,66.00" fill="#f8900f" stroke="#ee880c" stroke-width="0.35"/>
<polygon points="403.70,63.60 406.10,66.00 403.70,68.40 401.30,66.00" fill="#f8900f" stroke="#ee880c" stroke-width="0.35"/>
<polygon points="402.19,66.10 404.59,68.50 402.19,70.90 399.79,68.50" fill="#f8900f" stroke="#ee880c" stroke-width="0.35"/>
<polygon points="403.41,66.10 405.81,68.50 403.41,70.90 401.01,68.50" fill="#f8900f" stroke="#ee880c" stroke-width="0.35"/>
<polygon points="401.29,68.60 403.69,71.00 401.29,73.40 398.89,71.00" fill="#f8900f" stroke="#ee880c" stroke-width="0.35"/>
<polygon points="402.80,68.60 405.20,71.00 402.80,73.40 400.40,71.00" fill="#f8900f" stroke="#ee880c" stroke-width="0.35"/>
<polygon points="404.31,68.60 406.71,71.00 404.31,73.40 401.91,71.00" fill="#f8900f" stroke="#ee880c" stroke-width="0.35"/>
<polygon points="400.86,71.10 403.26,73.50 400.86,75.90 398.46,73.50" fill="#f8900f" stroke="#ee880c" stroke-width="0.35"/>
<polygon points="402.80,71.10 405.20,73.50 402.80,75.90 400.40,73.50" fill="#f8900f" stroke="#ee880c" stroke-width="0.35"/>
<polygon points="404.74,71.10 407.14,73.50 404.74,75.90 402.34,73.50" fill="#f8900f" stroke="#ee880c" stroke-width="0.35"/>
<polygon points="400.04,73.60 402.44,76.00 400.04,78.40 397.64,76.00" fill="#f8900f" stroke="#ee880c" stroke-width="0.35"/>
<polygon points="401.88,73.60 404.28,76.00 401.88,78.40 399.48,76.00" fill="#f8900f" stroke="#ee880c" stroke-width="0.35"/>
<polygon points="403.72,73.60 406.12,76.00 403.72,78.40 401.32,76.00" fill="#f8900f" stroke="#ee880c" stroke-width="0.35"/>
<polygon points="405.56,73.60 407.96,76.00 405.56,78.40 403.16,76.00" fill="#f8900f" stroke="#ee880c" stroke-width="0.35"/>
<polygon points="399.36,76.10 401.76,78.50 399.36,80.90 396.96,78.50" fill="#f8900f" stroke="#ee880c" stroke-width="0.35"/>
<polygon points="401.65,76.10 404.05,78.50 401.65,80.90 399.25,78.50" fill="#f8900f" stroke="#ee880c" stroke-width="0.35"/>
<polygon points="403.95,76.10 406.35,78.50 403.95,80.90 401.55,78.50" fill="#f8900f" stroke="#ee880c" stroke-width="0.35"/>
<polygon points="406.24,76.10 408.64,78.50 406.24,80.90 403.84,78.50" fill="#f8900f" stroke="#ee880c" stroke-width="0.35"/>
<polygon points="400.16,78.60 402.56,81.00 400.16,83.40 397.76,81.00" fill="#f8900f" stroke="#ee880c" stroke-width="0.35"/>
<polygon points="402.80,78.60 405.20,81.00 402.80,83.40 400.40,81.00" fill="#f8900f" stroke="#ee880c" stroke-width="0.35"/>
<polygon points="405.44,78.60 407.84,81.00 405.44,83.40 403.04,81.00" fill="#f8900f" stroke="#ee880c" stroke-width="0.35"/>
<polygon points="399.95,81.10 402.35,83.50 399.95,85.90 397.55,83.50" fill="#f8900f" stroke="#ee880c" stroke-width="0.35"/>
<polygon points="401.85,81.10 404.25,83.50 401.85,85.90 399.45,83.50" fill="#f8900f" stroke="#ee880c" stroke-width="0.35"/>
<polygon points="403.75,81.10 406.15,83.50 403.75,85.90 401.35,83.50" fill="#f8900f" stroke="#ee880c" stroke-width="0.35"/>
<polygon points="405.65,81.10 408.05,83.50 405.65,85.90 403.25,83.50" fill="#f8900f" stroke="#ee880c" stroke-width="0.35"/>
<polygon points="397.93,83.60 400.33,86.00 397.93,88.40 395.53,86.00" fill="#f8900f" stroke="#ee880c" stroke-width="0.35"/>
<polygon points="400.36,83.60 402.76,86.00 400.36,88.40 397.96,86.00" fill="#f8900f" stroke="#ee880c" stroke-width="0.35"/>
<polygon points="402.80,83.60 405.20,86.00 402.80,88.40 400.40,86.00" fill="#f8900f" stroke="#ee880c" stroke-width="0.35"/>
<polygon points="405.24,83.60 407.64,86.00 405.24,88.40 402.84,86.00" fill="#f8900f" stroke="#ee880c" stroke-width="0.35"/>
<polygon points="407.67,83.60 410.07,86.00 407.67,88.40 405.27,86.00" fill="#f8900f" stroke="#ee880c" stroke-width="0.35"/>
<polygon points="397.64,86.10 400.04,88.50 397.64,90.90 395.24,88.50" fill="#f8900f" stroke="#ee880c" stroke-width="0.35"/>
<polygon points="400.22,86.10 402.62,88.50 400.22,90.90 397.82,88.50" fill="#f8900f" stroke="#ee880c" stroke-width="0.35"/>
<polygon points="402.80,86.10 405.20,88.50 402.80,90.90 400.40,88.50" fill="#f8900f" stroke="#ee880c" stroke-width="0.35"/>
<polygon points="405.38,86.10 407.78,88.50 405.38,90.90 402.98,88.50" fill="#f8900f" stroke="#ee880c" stroke-width="0.35"/>
<polygon points="407.96,86.10 410.36,88.50 407.96,90.90 405.56,88.50" fill="#f8900f" stroke="#ee880c" stroke-width="0.35"/>
<polygon points="396.68,88.60 399.08,91.00 396.68,93.40 394.28,91.00" fill="#f8900f" stroke="#ee880c" stroke-width="0.35"/>
<polygon points="399.13,88.60 401.53,91.00 399.13,93.40 396.73,91.00" fill="#f8900f" stroke="#ee880c" stroke-width="0.35"/>
<polygon points="401.58,88.60 403.98,91.00 401.58,93.40 399.18,91.00" fill="#f8900f" stroke="#ee880c" stroke-width="0.35"/>
<polygon points="404.02,88.60 406.42,91.00 404.02,93.40 401.62,91.00" fill="#f8900f" stroke="#ee880c" stroke-width="0.35"/>
<polygon points="406.47,88.60 408.87,91.00 406.47,93.40 404.07,91.00" fill="#f8900f" stroke="#ee880c" stroke-width="0.35"/>
<polygon points="408.92,88.60 411.32,91.00 408.92,93.40 406.52,91.00" fill="#f8900f" stroke="#ee880c" stroke-width="0.35"/>
<polygon points="398.52,91.10 400.92,93.50 398.52,95.90 396.12,93.50" fill="#f8900f" stroke="#ee880c" stroke-width="0.35"/>
<polygon points="400.66,91.10 403.06,93.50 400.66,95.90 398.26,93.50" fill="#f8900f" stroke="#ee880c" stroke-width="0.35"/>
<polygon points="402.80,91.10 405.20,93.50 402.80,95.90 400.40,93.50" fill="#f8900f" stroke="#ee880c" stroke-width="0.35"/>
<polygon points="404.94,91.10 407.34,93.50 404.94,95.90 402.54,93.50" fill="#f8900f" stroke="#ee880c" stroke-width="0.35"/>
<polygon points="407.08,91.10 409.48,93.50 407.08,95.90 404.68,93.50" fill="#f8900f" stroke="#ee880c" stroke-width="0.35"/>
<polygon points="398.36,93.60 400.76,96.00 398.36,98.40 395.96,96.00" fill="#f8900f" stroke="#ee880c" stroke-width="0.35"/>
<polygon points="400.58,93.60 402.98,96.00 400.58,98.40 398.18,96.00" fill="#f8900f" stroke="#ee880c" stroke-width="0.35"/>
<polygon points="402.80,93.60 405.20,96.00 402.80,98.40 400.40,96.00" fill="#f8900f" stroke="#ee880c" stroke-width="0.35"/>
<polygon points="405.02,93.60 407.42,96.00 405.02,98.40 402.62,96.00" fill="#f8900f" stroke="#ee880c" stroke-width="0.35"/>
<polygon points="407.24,93.60 409.64,96.00 407.24,98.40 404.84,96.00" fill="#f8900f" stroke="#ee880c" stroke-width="0.35"/>
<polygon points="398.36,96.10 400.76,98.50 398.36,100.90 395.96,98.50" fill="#f8900f" stroke="#ee880c" stroke-width="0.35"/>
<polygon points="400.58,96.10 402.98,98.50 400.58,100.90 398.18,98.50" fill="#f8900f" stroke="#ee880c" stroke-width="0.35"/>
<polygon points="402.80,96.10 405.20,98.50 402.80,100.90 400.40,98.50" fill="#f8900f" stroke="#ee880c" stroke-width="0.35"/>
<polygon points="405.02,96.10 407.42,98.50 405.02,100.90 402.62,98.50" fill="#f8900f" stroke="#ee880c" stroke-width="0.35"/>
<polygon points="407.24,96.10 409.64,98.50 407.24,100.90 404.84,98.50" fill="#f8900f" stroke="#ee880c" stroke-width="0.35"/>
<polygon points="399.86,98.60 402.26,101.00 399.86,103.40 397.46,101.00" fill="#f8900f" stroke="#ee880c" stroke-width="0.35"/>
<polygon points="401.82,98.60 404.22,101.00 401.82,103.40 399.42,101.00" fill="#f8900f" stroke="#ee880c" stroke-width="0.35"/>
<polygon points="403.78,98.60 406.18,101.00 403.78,103.40 401.38,101.00" fill="#f8900f" stroke="#ee880c" stroke-width="0.35"/>
<polygon points="405.74,98.60 408.14,101.00 405.74,103.40 403.34,101.00" fill="#f8900f" stroke="#ee880c" stroke-width="0.35"/>
<polygon points="399.50,101.10 401.90,103.50 399.50,105.90 397.10,103.50" fill="#f8900f" stroke="#ee880c" stroke-width="0.35"/>
<polygon points="401.70,101.10 404.10,103.50 401.70,105.90 399.30,103.50" fill="#f8900f" stroke="#ee880c" stroke-width="0.35"/>
<polygon points="403.90,101.10 406.30,103.50 403.90,105.90 401.50,103.50" fill="#f8900f" stroke="#ee880c" stroke-width="0.35"/>
<polygon points="406.10,101.10 408.50,103.50 406.10,105.90 403.70,103.50" fill="#f8900f" stroke="#ee880c" stroke-width="0.35"/>
<polygon points="400.36,103.60 402.76,106.00 400.36,108.40 397.96,106.00" fill="#f8900f" stroke="#ee880c" stroke-width="0.35"/>
<polygon points="402.80,103.60 405.20,106.00 402.80,108.40 400.40,106.00" fill="#f8900f" stroke="#ee880c" stroke-width="0.35"/>
<polygon points="405.24,103.60 407.64,106.00 405.24,108.40 402.84,106.00" fill="#f8900f" stroke="#ee880c" stroke-width="0.35"/>
<polygon points="402.80,106.10 405.20,108.50 402.80,110.90 400.40,108.50" fill="#f8900f" stroke="#ee880c" stroke-width="0.35"/>
<polygon points="402.80,108.60 405.20,111.00 402.80,113.40 400.40,111.00" fill="#f8900f" stroke="#ee880c" stroke-width="0.35"/>
<polygon points="402.80,111.10 405.20,113.50 402.80,115.90 400.40,113.50" fill="#f8900f" stroke="#ee880c" stroke-width="0.35"/>
<polygon points="402.80,43.00 405.20,45.40 402.80,47.80 400.40,45.40" fill="#f8900f" stroke="#ee880c" stroke-width="0.35"/>
<polygon points="431.50,74.80 433.70,77.00 431.50,79.20 429.30,77.00" fill="#b9c6ad" stroke="#8a9c7e" stroke-width="0.8"/>
<polygon points="429.40,78.00 431.60,80.20 429.40,82.40 427.20,80.20" fill="#b9c6ad" stroke="#8a9c7e" stroke-width="0.8"/>
<polygon points="430.10,83.30 432.30,85.50 430.10,87.70 427.90,85.50" fill="#b9c6ad" stroke="#8a9c7e" stroke-width="0.8"/>
<polygon points="426.60,99.50 428.80,101.70 426.60,103.90 424.40,101.70" fill="#b9c6ad" stroke="#8a9c7e" stroke-width="0.8"/>
<polygon points="435.70,99.50 437.90,101.70 435.70,103.90 433.50,101.70" fill="#b9c6ad" stroke="#8a9c7e" stroke-width="0.8"/>
<polygon points="430.60,101.80 432.80,104.00 430.60,106.20 428.40,104.00" fill="#b9c6ad" stroke="#8a9c7e" stroke-width="0.8"/>
<polygon points="424.50,107.20 426.70,109.40 424.50,111.60 422.30,109.40" fill="#b9c6ad" stroke="#8a9c7e" stroke-width="0.8"/>
<polygon points="436.40,107.20 438.60,109.40 436.40,111.60 434.20,109.40" fill="#b9c6ad" stroke="#8a9c7e" stroke-width="0.8"/>
<polygon points="427.30,110.10 429.50,112.30 427.30,114.50 425.10,112.30" fill="#b9c6ad" stroke="#8a9c7e" stroke-width="0.8"/>
<polygon points="433.60,112.90 435.80,115.10 433.60,117.30 431.40,115.10" fill="#b9c6ad" stroke="#8a9c7e" stroke-width="0.8"/>
<polygon points="423.70,111.70 425.90,113.90 423.70,116.10 421.50,113.90" fill="#b9c6ad" stroke="#8a9c7e" stroke-width="0.8"/>
<polygon points="430.00,105.80 432.20,108.00 430.00,110.20 427.80,108.00" fill="#b9c6ad" stroke="#8a9c7e" stroke-width="0.8"/>
<line x1="402.80" y1="83.40" x2="402.80" y2="96.40" stroke="#231f20" stroke-width="1.0"/>
<line x1="393.60" y1="90.20" x2="412.00" y2="90.20" stroke="#231f20" stroke-width="1.3"/>
<line x1="398.40" y1="83.40" x2="407.20" y2="83.40" stroke="#231f20" stroke-width="1.0"/>
<line x1="398.40" y1="96.40" x2="407.20" y2="96.40" stroke="#231f20" stroke-width="1.0"/>
<line x1="430.00" y1="100.30" x2="430.00" y2="110.10" stroke="#1d2a14" stroke-width="1.0"/>
<line x1="420.80" y1="104.50" x2="439.20" y2="104.50" stroke="#1d2a14" stroke-width="1.3"/>
<line x1="426.10" y1="100.30" x2="433.90" y2="100.30" stroke="#1d2a14" stroke-width="1.0"/>
<line x1="426.10" y1="110.10" x2="433.90" y2="110.10" stroke="#1d2a14" stroke-width="1.0"/>
<line x1="384.60" y1="31.30" x2="384.60" y2="131.30" stroke="#231f20" stroke-width="1.3"/>
<line x1="384.10" y1="130.80" x2="447.90" y2="130.80" stroke="#231f20" stroke-width="1.3"/>
<text x="379.60" y="133.60" font-size="7.9" fill="#231f20" text-anchor="end" stroke="#231f20" stroke-width="0.15">7</text>
<line x1="381.80" y1="111.56" x2="384.60" y2="111.56" stroke="#231f20" stroke-width="1.0"/>
<text x="379.60" y="114.36" font-size="7.9" fill="#231f20" text-anchor="end" stroke="#231f20" stroke-width="0.15">8</text>
<line x1="381.80" y1="92.32" x2="384.60" y2="92.32" stroke="#231f20" stroke-width="1.0"/>
<text x="379.60" y="95.12" font-size="7.9" fill="#231f20" text-anchor="end" stroke="#231f20" stroke-width="0.15">9</text>
<line x1="381.80" y1="73.08" x2="384.60" y2="73.08" stroke="#231f20" stroke-width="1.0"/>
<text x="379.60" y="75.88" font-size="7.9" fill="#231f20" text-anchor="end" stroke="#231f20" stroke-width="0.15">10</text>
<line x1="381.80" y1="53.84" x2="384.60" y2="53.84" stroke="#231f20" stroke-width="1.0"/>
<text x="379.60" y="56.64" font-size="7.9" fill="#231f20" text-anchor="end" stroke="#231f20" stroke-width="0.15">11</text>
<line x1="381.80" y1="34.60" x2="384.60" y2="34.60" stroke="#231f20" stroke-width="1.0"/>
<text x="379.60" y="37.40" font-size="7.9" fill="#231f20" text-anchor="end" stroke="#231f20" stroke-width="0.15">12</text>
<line x1="402.30" y1="130.80" x2="402.30" y2="133.60" stroke="#231f20" stroke-width="1.0"/>
<line x1="429.80" y1="130.80" x2="429.80" y2="133.60" stroke="#231f20" stroke-width="1.0"/>
<text x="416.30" y="26.40" font-size="7.6" fill="#231f20" text-anchor="middle" stroke="#231f20" stroke-width="0.15" textLength="15.00" lengthAdjust="spacingAndGlyphs">BAX</text>
<text x="414.00" y="42.00" font-size="7.6" fill="#231f20" text-anchor="middle" stroke="#231f20" stroke-width="0.15"><tspan font-style="italic">P</tspan> &lt; .0001</text>
<text x="0.00" y="0.00" font-size="7.6" fill="#231f20" text-anchor="end" stroke="#231f20" stroke-width="0.15" transform="translate(405.60,140.50) rotate(-45)"><tspan font-style="italic">TP53</tspan>-wt</text>
<text x="0.00" y="0.00" font-size="7.6" fill="#231f20" text-anchor="end" stroke="#231f20" stroke-width="0.15" transform="translate(433.10,140.50) rotate(-45)"><tspan font-style="italic">TP53</tspan>-</text>
<text x="0.00" y="0.00" font-size="7.6" fill="#231f20" text-anchor="end" stroke="#231f20" stroke-width="0.15" transform="translate(439.80,147.60) rotate(-45)">mut. or del</text>
<text x="0.00" y="0.00" font-size="8.8" fill="#231f20" text-anchor="middle" stroke="#231f20" stroke-width="0.3" textLength="57.00" lengthAdjust="spacingAndGlyphs" transform="translate(362.8,82.3) rotate(-90)">BAX expression log<tspan font-size="6.0" dy="1.8">2</tspan></text>
<line x1="47.80" y1="220.60" x2="47.80" y2="319.20" stroke="#231f20" stroke-width="1.3"/>
<line x1="47.30" y1="318.70" x2="173.80" y2="318.70" stroke="#231f20" stroke-width="1.3"/>
<text x="42.20" y="321.50" font-size="7.9" fill="#231f20" text-anchor="end" stroke="#231f20" stroke-width="0.15">0</text>
<line x1="45.00" y1="306.81" x2="47.80" y2="306.81" stroke="#231f20" stroke-width="1.0"/>
<text x="42.20" y="309.61" font-size="7.9" fill="#231f20" text-anchor="end" stroke="#231f20" stroke-width="0.15">200</text>
<line x1="45.00" y1="294.93" x2="47.80" y2="294.93" stroke="#231f20" stroke-width="1.0"/>
<text x="42.20" y="297.73" font-size="7.9" fill="#231f20" text-anchor="end" stroke="#231f20" stroke-width="0.15">400</text>
<line x1="45.00" y1="283.04" x2="47.80" y2="283.04" stroke="#231f20" stroke-width="1.0"/>
<text x="42.20" y="285.84" font-size="7.9" fill="#231f20" text-anchor="end" stroke="#231f20" stroke-width="0.15">600</text>
<line x1="45.00" y1="271.15" x2="47.80" y2="271.15" stroke="#231f20" stroke-width="1.0"/>
<text x="42.20" y="273.95" font-size="7.9" fill="#231f20" text-anchor="end" stroke="#231f20" stroke-width="0.15">800</text>
<line x1="45.00" y1="259.26" x2="47.80" y2="259.26" stroke="#231f20" stroke-width="1.0"/>
<text x="42.20" y="262.06" font-size="7.9" fill="#231f20" text-anchor="end" stroke="#231f20" stroke-width="0.15">1000</text>
<line x1="45.00" y1="247.38" x2="47.80" y2="247.38" stroke="#231f20" stroke-width="1.0"/>
<text x="42.20" y="250.18" font-size="7.9" fill="#231f20" text-anchor="end" stroke="#231f20" stroke-width="0.15">1200</text>
<line x1="45.00" y1="235.49" x2="47.80" y2="235.49" stroke="#231f20" stroke-width="1.0"/>
<text x="42.20" y="238.29" font-size="7.9" fill="#231f20" text-anchor="end" stroke="#231f20" stroke-width="0.15">1400</text>
<line x1="45.00" y1="223.60" x2="47.80" y2="223.60" stroke="#231f20" stroke-width="1.0"/>
<text x="42.20" y="226.40" font-size="7.9" fill="#231f20" text-anchor="end" stroke="#231f20" stroke-width="0.15">1600</text>
<line x1="56.50" y1="318.70" x2="56.50" y2="321.50" stroke="#231f20" stroke-width="1.0"/>
<text x="0.00" y="0.00" font-size="7.4" fill="#231f20" text-anchor="end" stroke="#231f20" stroke-width="0.15" transform="translate(59.30,330.70) rotate(-45)">Vehicle</text>
<line x1="69.96" y1="318.70" x2="69.96" y2="321.50" stroke="#231f20" stroke-width="1.0"/>
<text x="0.00" y="0.00" font-size="7.4" fill="#231f20" text-anchor="end" stroke="#231f20" stroke-width="0.15" transform="translate(72.76,330.70) rotate(-45)">Ven</text>
<line x1="83.42" y1="318.70" x2="83.42" y2="321.50" stroke="#231f20" stroke-width="1.0"/>
<text x="0.00" y="0.00" font-size="7.4" fill="#231f20" text-anchor="end" stroke="#231f20" stroke-width="0.15" transform="translate(86.22,330.70) rotate(-45)">Teri</text>
<line x1="96.88" y1="318.70" x2="96.88" y2="321.50" stroke="#231f20" stroke-width="1.0"/>
<text x="0.00" y="0.00" font-size="7.4" fill="#231f20" text-anchor="end" stroke="#231f20" stroke-width="0.15" transform="translate(99.68,330.70) rotate(-45)">Vehicle</text>
<line x1="110.34" y1="318.70" x2="110.34" y2="321.50" stroke="#231f20" stroke-width="1.0"/>
<text x="0.00" y="0.00" font-size="7.4" fill="#231f20" text-anchor="end" stroke="#231f20" stroke-width="0.15" transform="translate(113.14,330.70) rotate(-45)">Ven</text>
<line x1="123.80" y1="318.70" x2="123.80" y2="321.50" stroke="#231f20" stroke-width="1.0"/>
<text x="0.00" y="0.00" font-size="7.4" fill="#231f20" text-anchor="end" stroke="#231f20" stroke-width="0.15" transform="translate(126.60,330.70) rotate(-45)">Teri</text>
<line x1="137.26" y1="318.70" x2="137.26" y2="321.50" stroke="#231f20" stroke-width="1.0"/>
<text x="0.00" y="0.00" font-size="7.4" fill="#231f20" text-anchor="end" stroke="#231f20" stroke-width="0.15" transform="translate(140.06,330.70) rotate(-45)">Vehicle</text>
<line x1="150.72" y1="318.70" x2="150.72" y2="321.50" stroke="#231f20" stroke-width="1.0"/>
<text x="0.00" y="0.00" font-size="7.4" fill="#231f20" text-anchor="end" stroke="#231f20" stroke-width="0.15" transform="translate(153.52,330.70) rotate(-45)">Ven</text>
<line x1="164.18" y1="318.70" x2="164.18" y2="321.50" stroke="#231f20" stroke-width="1.0"/>
<text x="0.00" y="0.00" font-size="7.4" fill="#231f20" text-anchor="end" stroke="#231f20" stroke-width="0.15" transform="translate(166.98,330.70) rotate(-45)">Teri</text>
<text x="109.70" y="199.30" font-size="7.6" fill="#4aa9dc" text-anchor="middle" stroke="#4aa9dc" stroke-width="0.15">UTP</text>
<path d="M51.20,219.00 Q51.20,216.40 53.40,216.40 L85.50,216.40 Q87.70,216.40 87.70,219.00" fill="none" stroke="#231f20" stroke-width="1"/>
<text x="69.45" y="211.30" font-size="7.9" fill="#231f20" text-anchor="middle" stroke="#231f20" stroke-width="0.15">THP1</text>
<path d="M91.40,219.00 Q91.40,216.40 93.60,216.40 L125.80,216.40 Q128.00,216.40 128.00,219.00" fill="none" stroke="#231f20" stroke-width="1"/>
<text x="109.70" y="211.30" font-size="7.9" fill="#231f20" text-anchor="middle" stroke="#231f20" stroke-width="0.15">MOLM13</text>
<path d="M131.30,219.00 Q131.30,216.40 133.50,216.40 L165.10,216.40 Q167.30,216.40 167.30,219.00" fill="none" stroke="#231f20" stroke-width="1"/>
<text x="149.30" y="211.30" font-size="7.9" fill="#231f20" text-anchor="middle" stroke="#231f20" stroke-width="0.15">K562</text>
<text x="0.00" y="0.00" font-size="8.8" fill="#231f20" text-anchor="middle" stroke="#231f20" stroke-width="0.3" textLength="49.20" lengthAdjust="spacingAndGlyphs" transform="translate(17.30,270.20) rotate(-90)">UTP pM/10<tspan font-size="6.0" dy="-3.3">6</tspan><tspan dy="3.3"> cells</tspan></text>
<rect x="51.50" y="226.30" width="4.2" height="4.2" fill="#d4176f"/>
<text x="59.70" y="230.90" font-size="7.3" fill="#231f20" text-anchor="start" stroke="#231f20" stroke-width="0.15"><tspan font-style="italic">TP53</tspan>-mut.</text>
<polygon points="53.60,232.64 56.40,238.24 50.80,238.24" fill="#f39c2a"/>
<text x="59.70" y="238.90" font-size="7.3" fill="#231f20" text-anchor="start" stroke="#231f20" stroke-width="0.15"><tspan font-style="italic">TP53</tspan>-wt.</text>
<circle cx="53.70" cy="244.70" r="2.4" fill="#d4176f"/>
<text x="59.70" y="247.20" font-size="7.3" fill="#231f20" text-anchor="start" stroke="#231f20" stroke-width="0.15"><tspan font-style="italic">TP53</tspan>-mut.</text>
<rect x="52.60" y="265.60" width="4.8" height="4.8" fill="#d4176f"/>
<rect x="56.20" y="266.20" width="4.8" height="4.8" fill="#d4176f"/>
<rect x="54.50" y="272.80" width="4.8" height="4.8" fill="#d4176f"/>
<line x1="56.50" y1="266.80" x2="56.50" y2="275.50" stroke="#231f20" stroke-width="1.0"/>
<line x1="51.90" y1="271.10" x2="61.10" y2="271.10" stroke="#231f20" stroke-width="1.3"/>
<line x1="54.10" y1="266.80" x2="58.90" y2="266.80" stroke="#231f20" stroke-width="1.0"/>
<line x1="54.10" y1="275.50" x2="58.90" y2="275.50" stroke="#231f20" stroke-width="1.0"/>
<rect x="66.40" y="272.40" width="4.8" height="4.8" fill="#d4176f"/>
<rect x="69.00" y="275.10" width="4.8" height="4.8" fill="#d4176f"/>
<rect x="67.60" y="280.40" width="4.8" height="4.8" fill="#d4176f"/>
<line x1="69.96" y1="273.90" x2="69.96" y2="282.50" stroke="#231f20" stroke-width="1.0"/>
<line x1="65.36" y1="277.90" x2="74.56" y2="277.90" stroke="#231f20" stroke-width="1.3"/>
<line x1="67.56" y1="273.90" x2="72.36" y2="273.90" stroke="#231f20" stroke-width="1.0"/>
<line x1="67.56" y1="282.50" x2="72.36" y2="282.50" stroke="#231f20" stroke-width="1.0"/>
<rect x="81.20" y="299.30" width="4.8" height="4.8" fill="#d4176f"/>
<rect x="80.40" y="304.60" width="4.8" height="4.8" fill="#d4176f"/>
<rect x="81.20" y="310.80" width="4.8" height="4.8" fill="#d4176f"/>
<line x1="83.42" y1="301.00" x2="83.42" y2="313.20" stroke="#231f20" stroke-width="1.0"/>
<line x1="78.82" y1="307.70" x2="88.02" y2="307.70" stroke="#231f20" stroke-width="1.3"/>
<line x1="81.02" y1="301.00" x2="85.82" y2="301.00" stroke="#231f20" stroke-width="1.0"/>
<line x1="81.02" y1="313.20" x2="85.82" y2="313.20" stroke="#231f20" stroke-width="1.0"/>
<text x="0.00" y="0.00" font-size="7.4" fill="#231f20" text-anchor="middle" stroke="#231f20" stroke-width="0.15" transform="translate(86.60,281.00) rotate(-90)"><tspan font-style="italic">P</tspan> = .01</text>
<polygon points="97.00,246.14 99.80,251.74 94.20,251.74" fill="#f39c2a"/>
<polygon points="97.00,275.44 99.80,281.04 94.20,281.04" fill="#f39c2a"/>
<polygon points="97.00,286.24 99.80,291.84 94.20,291.84" fill="#f39c2a"/>
<line x1="96.88" y1="249.50" x2="96.88" y2="289.60" stroke="#231f20" stroke-width="1.0"/>
<line x1="92.28" y1="271.40" x2="101.48" y2="271.40" stroke="#231f20" stroke-width="1.3"/>
<line x1="94.48" y1="249.50" x2="99.28" y2="249.50" stroke="#231f20" stroke-width="1.0"/>
<line x1="94.48" y1="289.60" x2="99.28" y2="289.60" stroke="#231f20" stroke-width="1.0"/>
<polygon points="110.60,271.64 113.40,277.24 107.80,277.24" fill="#f39c2a"/>
<polygon points="110.60,282.24 113.40,287.84 107.80,287.84" fill="#f39c2a"/>
<polygon points="110.60,295.04 113.40,300.64 107.80,300.64" fill="#f39c2a"/>
<line x1="110.34" y1="275.00" x2="110.34" y2="298.40" stroke="#231f20" stroke-width="1.0"/>
<line x1="105.74" y1="285.40" x2="114.94" y2="285.40" stroke="#231f20" stroke-width="1.3"/>
<line x1="107.94" y1="275.00" x2="112.74" y2="275.00" stroke="#231f20" stroke-width="1.0"/>
<line x1="107.94" y1="298.40" x2="112.74" y2="298.40" stroke="#231f20" stroke-width="1.0"/>
<polygon points="124.60,303.04 127.40,308.64 121.80,308.64" fill="#f39c2a"/>
<polygon points="122.80,306.44 125.60,312.04 120.00,312.04" fill="#f39c2a"/>
<polygon points="124.00,311.84 126.80,317.44 121.20,317.44" fill="#f39c2a"/>
<line x1="123.80" y1="305.20" x2="123.80" y2="315.20" stroke="#231f20" stroke-width="1.0"/>
<line x1="119.80" y1="310.60" x2="127.80" y2="310.60" stroke="#231f20" stroke-width="1.3"/>
<line x1="121.60" y1="305.20" x2="126.00" y2="305.20" stroke="#231f20" stroke-width="1.0"/>
<line x1="121.60" y1="315.20" x2="126.00" y2="315.20" stroke="#231f20" stroke-width="1.0"/>
<text x="0.00" y="0.00" font-size="7.4" fill="#231f20" text-anchor="middle" stroke="#231f20" stroke-width="0.15" transform="translate(127.80,286.20) rotate(-90)"><tspan font-style="italic">P</tspan> = .03</text>
<circle cx="137.30" cy="229.00" r="2.75" fill="#d4176f"/>
<circle cx="137.30" cy="251.80" r="2.75" fill="#d4176f"/>
<line x1="137.26" y1="224.50" x2="137.26" y2="256.20" stroke="#231f20" stroke-width="1.0"/>
<line x1="132.66" y1="240.40" x2="141.86" y2="240.40" stroke="#231f20" stroke-width="1.3"/>
<line x1="134.86" y1="224.50" x2="139.66" y2="224.50" stroke="#231f20" stroke-width="1.0"/>
<line x1="134.86" y1="256.20" x2="139.66" y2="256.20" stroke="#231f20" stroke-width="1.0"/>
<circle cx="150.80" cy="230.90" r="2.75" fill="#d4176f"/>
<circle cx="150.80" cy="251.80" r="2.75" fill="#d4176f"/>
<line x1="150.72" y1="226.40" x2="150.72" y2="255.60" stroke="#231f20" stroke-width="1.0"/>
<line x1="146.12" y1="241.40" x2="155.32" y2="241.40" stroke="#231f20" stroke-width="1.3"/>
<line x1="148.32" y1="226.40" x2="153.12" y2="226.40" stroke="#231f20" stroke-width="1.0"/>
<line x1="148.32" y1="255.60" x2="153.12" y2="255.60" stroke="#231f20" stroke-width="1.0"/>
<circle cx="165.20" cy="297.80" r="2.75" fill="#d4176f"/>
<circle cx="162.60" cy="302.30" r="2.75" fill="#d4176f"/>
<line x1="160.00" y1="300.30" x2="168.00" y2="300.30" stroke="#231f20" stroke-width="1.0"/>
<text x="0.00" y="0.00" font-size="7.4" fill="#231f20" text-anchor="middle" stroke="#231f20" stroke-width="0.15" transform="translate(166.60,280.30) rotate(-90)"><tspan font-style="italic">P</tspan> = .07</text>
<line x1="219.40" y1="221.40" x2="219.40" y2="319.10" stroke="#231f20" stroke-width="1.3"/>
<line x1="218.90" y1="318.60" x2="344.30" y2="318.60" stroke="#231f20" stroke-width="1.3"/>
<text x="214.20" y="321.40" font-size="7.9" fill="#231f20" text-anchor="end" stroke="#231f20" stroke-width="0.15">0</text>
<line x1="216.60" y1="308.13" x2="219.40" y2="308.13" stroke="#231f20" stroke-width="1.0"/>
<text x="214.20" y="310.93" font-size="7.9" fill="#231f20" text-anchor="end" stroke="#231f20" stroke-width="0.15">50</text>
<line x1="216.60" y1="297.67" x2="219.40" y2="297.67" stroke="#231f20" stroke-width="1.0"/>
<text x="214.20" y="300.47" font-size="7.9" fill="#231f20" text-anchor="end" stroke="#231f20" stroke-width="0.15">100</text>
<line x1="216.60" y1="287.20" x2="219.40" y2="287.20" stroke="#231f20" stroke-width="1.0"/>
<text x="214.20" y="290.00" font-size="7.9" fill="#231f20" text-anchor="end" stroke="#231f20" stroke-width="0.15">150</text>
<line x1="216.60" y1="276.73" x2="219.40" y2="276.73" stroke="#231f20" stroke-width="1.0"/>
<text x="214.20" y="279.53" font-size="7.9" fill="#231f20" text-anchor="end" stroke="#231f20" stroke-width="0.15">200</text>
<line x1="216.60" y1="266.27" x2="219.40" y2="266.27" stroke="#231f20" stroke-width="1.0"/>
<text x="214.20" y="269.07" font-size="7.9" fill="#231f20" text-anchor="end" stroke="#231f20" stroke-width="0.15">250</text>
<line x1="216.60" y1="255.80" x2="219.40" y2="255.80" stroke="#231f20" stroke-width="1.0"/>
<text x="214.20" y="258.60" font-size="7.9" fill="#231f20" text-anchor="end" stroke="#231f20" stroke-width="0.15">300</text>
<line x1="216.60" y1="245.33" x2="219.40" y2="245.33" stroke="#231f20" stroke-width="1.0"/>
<text x="214.20" y="248.13" font-size="7.9" fill="#231f20" text-anchor="end" stroke="#231f20" stroke-width="0.15">350</text>
<line x1="216.60" y1="234.87" x2="219.40" y2="234.87" stroke="#231f20" stroke-width="1.0"/>
<text x="214.20" y="237.67" font-size="7.9" fill="#231f20" text-anchor="end" stroke="#231f20" stroke-width="0.15">400</text>
<line x1="216.60" y1="224.40" x2="219.40" y2="224.40" stroke="#231f20" stroke-width="1.0"/>
<text x="214.20" y="227.20" font-size="7.9" fill="#231f20" text-anchor="end" stroke="#231f20" stroke-width="0.15">450</text>
<line x1="228.30" y1="318.60" x2="228.30" y2="321.40" stroke="#231f20" stroke-width="1.0"/>
<text x="0.00" y="0.00" font-size="7.4" fill="#231f20" text-anchor="end" stroke="#231f20" stroke-width="0.15" transform="translate(231.10,330.60) rotate(-45)">Vehicle</text>
<line x1="241.72" y1="318.60" x2="241.72" y2="321.40" stroke="#231f20" stroke-width="1.0"/>
<text x="0.00" y="0.00" font-size="7.4" fill="#231f20" text-anchor="end" stroke="#231f20" stroke-width="0.15" transform="translate(244.52,330.60) rotate(-45)">Ven</text>
<line x1="255.14" y1="318.60" x2="255.14" y2="321.40" stroke="#231f20" stroke-width="1.0"/>
<text x="0.00" y="0.00" font-size="7.4" fill="#231f20" text-anchor="end" stroke="#231f20" stroke-width="0.15" transform="translate(257.94,330.60) rotate(-45)">Teri</text>
<line x1="268.56" y1="318.60" x2="268.56" y2="321.40" stroke="#231f20" stroke-width="1.0"/>
<text x="0.00" y="0.00" font-size="7.4" fill="#231f20" text-anchor="end" stroke="#231f20" stroke-width="0.15" transform="translate(271.36,330.60) rotate(-45)">Vehicle</text>
<line x1="281.98" y1="318.60" x2="281.98" y2="321.40" stroke="#231f20" stroke-width="1.0"/>
<text x="0.00" y="0.00" font-size="7.4" fill="#231f20" text-anchor="end" stroke="#231f20" stroke-width="0.15" transform="translate(284.78,330.60) rotate(-45)">Ven</text>
<line x1="295.40" y1="318.60" x2="295.40" y2="321.40" stroke="#231f20" stroke-width="1.0"/>
<text x="0.00" y="0.00" font-size="7.4" fill="#231f20" text-anchor="end" stroke="#231f20" stroke-width="0.15" transform="translate(298.20,330.60) rotate(-45)">Teri</text>
<line x1="308.82" y1="318.60" x2="308.82" y2="321.40" stroke="#231f20" stroke-width="1.0"/>
<text x="0.00" y="0.00" font-size="7.4" fill="#231f20" text-anchor="end" stroke="#231f20" stroke-width="0.15" transform="translate(311.62,330.60) rotate(-45)">Vehicle</text>
<line x1="322.24" y1="318.60" x2="322.24" y2="321.40" stroke="#231f20" stroke-width="1.0"/>
<text x="0.00" y="0.00" font-size="7.4" fill="#231f20" text-anchor="end" stroke="#231f20" stroke-width="0.15" transform="translate(325.04,330.60) rotate(-45)">Ven</text>
<line x1="335.66" y1="318.60" x2="335.66" y2="321.40" stroke="#231f20" stroke-width="1.0"/>
<text x="0.00" y="0.00" font-size="7.4" fill="#231f20" text-anchor="end" stroke="#231f20" stroke-width="0.15" transform="translate(338.46,330.60) rotate(-45)">Teri</text>
<text x="281.00" y="199.30" font-size="7.6" fill="#4aa9dc" text-anchor="middle" stroke="#4aa9dc" stroke-width="0.15">CTP</text>
<path d="M222.80,219.00 Q222.80,216.40 225.00,216.40 L256.40,216.40 Q258.60,216.40 258.60,219.00" fill="none" stroke="#231f20" stroke-width="1"/>
<text x="240.70" y="211.30" font-size="7.9" fill="#231f20" text-anchor="middle" stroke="#231f20" stroke-width="0.15">THP1</text>
<path d="M262.50,219.00 Q262.50,216.40 264.70,216.40 L296.40,216.40 Q298.60,216.40 298.60,219.00" fill="none" stroke="#231f20" stroke-width="1"/>
<text x="280.55" y="211.30" font-size="7.9" fill="#231f20" text-anchor="middle" stroke="#231f20" stroke-width="0.15">MOLM13</text>
<path d="M302.50,219.00 Q302.50,216.40 304.70,216.40 L336.20,216.40 Q338.40,216.40 338.40,219.00" fill="none" stroke="#231f20" stroke-width="1"/>
<text x="320.45" y="211.30" font-size="7.9" fill="#231f20" text-anchor="middle" stroke="#231f20" stroke-width="0.15">K562</text>
<text x="0.00" y="0.00" font-size="8.8" fill="#231f20" text-anchor="middle" stroke="#231f20" stroke-width="0.3" textLength="49.20" lengthAdjust="spacingAndGlyphs" transform="translate(193.00,269.80) rotate(-90)">CTP pM/10<tspan font-size="6.0" dy="-3.3">6</tspan><tspan dy="3.3"> cells</tspan></text>
<rect x="224.20" y="235.00" width="4.8" height="4.8" fill="#d4176f"/>
<rect x="228.40" y="235.40" width="4.8" height="4.8" fill="#d4176f"/>
<rect x="225.90" y="257.50" width="4.8" height="4.8" fill="#d4176f"/>
<line x1="228.30" y1="233.50" x2="228.30" y2="259.90" stroke="#231f20" stroke-width="1.0"/>
<line x1="223.70" y1="245.80" x2="232.90" y2="245.80" stroke="#231f20" stroke-width="1.3"/>
<line x1="225.90" y1="233.50" x2="230.70" y2="233.50" stroke="#231f20" stroke-width="1.0"/>
<line x1="225.90" y1="259.90" x2="230.70" y2="259.90" stroke="#231f20" stroke-width="1.0"/>
<rect x="238.00" y="254.80" width="4.8" height="4.8" fill="#d4176f"/>
<rect x="241.40" y="256.20" width="4.8" height="4.8" fill="#d4176f"/>
<rect x="239.40" y="260.20" width="4.8" height="4.8" fill="#d4176f"/>
<line x1="241.72" y1="256.60" x2="241.72" y2="262.20" stroke="#231f20" stroke-width="1.0"/>
<line x1="237.12" y1="259.40" x2="246.32" y2="259.40" stroke="#231f20" stroke-width="1.3"/>
<line x1="239.32" y1="256.60" x2="244.12" y2="256.60" stroke="#231f20" stroke-width="1.0"/>
<line x1="239.32" y1="262.20" x2="244.12" y2="262.20" stroke="#231f20" stroke-width="1.0"/>
<rect x="252.80" y="288.20" width="4.8" height="4.8" fill="#d4176f"/>
<rect x="252.80" y="301.50" width="4.8" height="4.8" fill="#d4176f"/>
<rect x="252.80" y="306.60" width="4.8" height="4.8" fill="#d4176f"/>
<line x1="255.14" y1="290.60" x2="255.14" y2="309.00" stroke="#231f20" stroke-width="1.0"/>
<line x1="250.54" y1="301.00" x2="259.74" y2="301.00" stroke="#231f20" stroke-width="1.3"/>
<line x1="252.74" y1="290.60" x2="257.54" y2="290.60" stroke="#231f20" stroke-width="1.0"/>
<line x1="252.74" y1="309.00" x2="257.54" y2="309.00" stroke="#231f20" stroke-width="1.0"/>
<text x="0.00" y="0.00" font-size="7.4" fill="#231f20" text-anchor="middle" stroke="#231f20" stroke-width="0.15" transform="translate(258.00,271.00) rotate(-90)"><tspan font-style="italic">P</tspan> = .02</text>
<polygon points="268.60,231.84 271.40,237.44 265.80,237.44" fill="#f39c2a"/>
<polygon points="268.60,269.94 271.40,275.54 265.80,275.54" fill="#f39c2a"/>
<polygon points="268.60,278.44 271.40,284.04 265.80,284.04" fill="#f39c2a"/>
<line x1="268.56" y1="235.20" x2="268.56" y2="287.20" stroke="#231f20" stroke-width="1.0"/>
<line x1="263.96" y1="263.00" x2="273.16" y2="263.00" stroke="#231f20" stroke-width="1.3"/>
<line x1="266.16" y1="235.20" x2="270.96" y2="235.20" stroke="#231f20" stroke-width="1.0"/>
<line x1="266.16" y1="287.20" x2="270.96" y2="287.20" stroke="#231f20" stroke-width="1.0"/>
<polygon points="281.60,265.04 284.40,270.64 278.80,270.64" fill="#f39c2a"/>
<polygon points="281.60,278.64 284.40,284.24 278.80,284.24" fill="#f39c2a"/>
<polygon points="281.60,292.14 284.40,297.74 278.80,297.74" fill="#f39c2a"/>
<line x1="281.98" y1="267.60" x2="281.98" y2="295.50" stroke="#231f20" stroke-width="1.0"/>
<line x1="277.38" y1="281.20" x2="286.58" y2="281.20" stroke="#231f20" stroke-width="1.3"/>
<line x1="279.58" y1="267.60" x2="284.38" y2="267.60" stroke="#231f20" stroke-width="1.0"/>
<line x1="279.58" y1="295.50" x2="284.38" y2="295.50" stroke="#231f20" stroke-width="1.0"/>
<polygon points="295.00,299.64 297.80,305.24 292.20,305.24" fill="#f39c2a"/>
<polygon points="294.00,303.64 296.80,309.24 291.20,309.24" fill="#f39c2a"/>
<polygon points="295.40,308.64 298.20,314.24 292.60,314.24" fill="#f39c2a"/>
<line x1="295.40" y1="303.00" x2="295.40" y2="312.00" stroke="#231f20" stroke-width="1.0"/>
<line x1="291.40" y1="307.40" x2="299.40" y2="307.40" stroke="#231f20" stroke-width="1.3"/>
<line x1="293.20" y1="303.00" x2="297.60" y2="303.00" stroke="#231f20" stroke-width="1.0"/>
<line x1="293.20" y1="312.00" x2="297.60" y2="312.00" stroke="#231f20" stroke-width="1.0"/>
<text x="0.00" y="0.00" font-size="7.4" fill="#231f20" text-anchor="middle" stroke="#231f20" stroke-width="0.15" transform="translate(297.60,282.50) rotate(-90)"><tspan font-style="italic">P</tspan> = .03</text>
<circle cx="309.00" cy="229.90" r="2.75" fill="#d4176f"/>
<circle cx="309.00" cy="257.50" r="2.75" fill="#d4176f"/>
<line x1="308.82" y1="224.20" x2="308.82" y2="263.70" stroke="#231f20" stroke-width="1.0"/>
<line x1="304.22" y1="244.00" x2="313.42" y2="244.00" stroke="#231f20" stroke-width="1.3"/>
<line x1="306.42" y1="224.20" x2="311.22" y2="224.20" stroke="#231f20" stroke-width="1.0"/>
<line x1="306.42" y1="263.70" x2="311.22" y2="263.70" stroke="#231f20" stroke-width="1.0"/>
<circle cx="322.20" cy="235.50" r="2.75" fill="#d4176f"/>
<circle cx="322.20" cy="256.00" r="2.75" fill="#d4176f"/>
<line x1="322.24" y1="232.70" x2="322.24" y2="259.40" stroke="#231f20" stroke-width="1.0"/>
<line x1="317.64" y1="246.20" x2="326.84" y2="246.20" stroke="#231f20" stroke-width="1.3"/>
<line x1="319.84" y1="232.70" x2="324.64" y2="232.70" stroke="#231f20" stroke-width="1.0"/>
<line x1="319.84" y1="259.40" x2="324.64" y2="259.40" stroke="#231f20" stroke-width="1.0"/>
<circle cx="337.40" cy="300.60" r="2.75" fill="#d4176f"/>
<circle cx="333.60" cy="304.40" r="2.75" fill="#d4176f"/>
<line x1="331.50" y1="302.60" x2="339.50" y2="302.60" stroke="#231f20" stroke-width="1.0"/>
<text x="0.00" y="0.00" font-size="7.4" fill="#231f20" text-anchor="middle" stroke="#231f20" stroke-width="0.15" transform="translate(337.80,280.60) rotate(-90)"><tspan font-style="italic">P</tspan> = .09</text>
<line x1="387.70" y1="220.70" x2="387.70" y2="319.20" stroke="#231f20" stroke-width="1.3"/>
<line x1="387.20" y1="318.70" x2="513.20" y2="318.70" stroke="#231f20" stroke-width="1.3"/>
<text x="382.40" y="321.50" font-size="7.9" fill="#231f20" text-anchor="end" stroke="#231f20" stroke-width="0.15">0</text>
<line x1="384.90" y1="310.06" x2="387.70" y2="310.06" stroke="#231f20" stroke-width="1.0"/>
<text x="382.40" y="312.86" font-size="7.9" fill="#231f20" text-anchor="end" stroke="#231f20" stroke-width="0.15">1</text>
<line x1="384.90" y1="301.43" x2="387.70" y2="301.43" stroke="#231f20" stroke-width="1.0"/>
<text x="382.40" y="304.23" font-size="7.9" fill="#231f20" text-anchor="end" stroke="#231f20" stroke-width="0.15">2</text>
<line x1="384.90" y1="292.79" x2="387.70" y2="292.79" stroke="#231f20" stroke-width="1.0"/>
<text x="382.40" y="295.59" font-size="7.9" fill="#231f20" text-anchor="end" stroke="#231f20" stroke-width="0.15">3</text>
<line x1="384.90" y1="284.15" x2="387.70" y2="284.15" stroke="#231f20" stroke-width="1.0"/>
<text x="382.40" y="286.95" font-size="7.9" fill="#231f20" text-anchor="end" stroke="#231f20" stroke-width="0.15">4</text>
<line x1="384.90" y1="275.52" x2="387.70" y2="275.52" stroke="#231f20" stroke-width="1.0"/>
<text x="382.40" y="278.32" font-size="7.9" fill="#231f20" text-anchor="end" stroke="#231f20" stroke-width="0.15">5</text>
<line x1="384.90" y1="266.88" x2="387.70" y2="266.88" stroke="#231f20" stroke-width="1.0"/>
<text x="382.40" y="269.68" font-size="7.9" fill="#231f20" text-anchor="end" stroke="#231f20" stroke-width="0.15">6</text>
<line x1="384.90" y1="258.25" x2="387.70" y2="258.25" stroke="#231f20" stroke-width="1.0"/>
<text x="382.40" y="261.05" font-size="7.9" fill="#231f20" text-anchor="end" stroke="#231f20" stroke-width="0.15">7</text>
<line x1="384.90" y1="249.61" x2="387.70" y2="249.61" stroke="#231f20" stroke-width="1.0"/>
<text x="382.40" y="252.41" font-size="7.9" fill="#231f20" text-anchor="end" stroke="#231f20" stroke-width="0.15">8</text>
<line x1="384.90" y1="240.97" x2="387.70" y2="240.97" stroke="#231f20" stroke-width="1.0"/>
<text x="382.40" y="243.77" font-size="7.9" fill="#231f20" text-anchor="end" stroke="#231f20" stroke-width="0.15">9</text>
<line x1="384.90" y1="232.34" x2="387.70" y2="232.34" stroke="#231f20" stroke-width="1.0"/>
<text x="382.40" y="235.14" font-size="7.9" fill="#231f20" text-anchor="end" stroke="#231f20" stroke-width="0.15">10</text>
<line x1="384.90" y1="223.70" x2="387.70" y2="223.70" stroke="#231f20" stroke-width="1.0"/>
<text x="382.40" y="226.50" font-size="7.9" fill="#231f20" text-anchor="end" stroke="#231f20" stroke-width="0.15">11</text>
<line x1="396.30" y1="318.70" x2="396.30" y2="321.50" stroke="#231f20" stroke-width="1.0"/>
<text x="0.00" y="0.00" font-size="7.4" fill="#231f20" text-anchor="end" stroke="#231f20" stroke-width="0.15" transform="translate(399.10,330.70) rotate(-45)">Vehicle</text>
<line x1="409.75" y1="318.70" x2="409.75" y2="321.50" stroke="#231f20" stroke-width="1.0"/>
<text x="0.00" y="0.00" font-size="7.4" fill="#231f20" text-anchor="end" stroke="#231f20" stroke-width="0.15" transform="translate(412.55,330.70) rotate(-45)">Ven</text>
<line x1="423.20" y1="318.70" x2="423.20" y2="321.50" stroke="#231f20" stroke-width="1.0"/>
<text x="0.00" y="0.00" font-size="7.4" fill="#231f20" text-anchor="end" stroke="#231f20" stroke-width="0.15" transform="translate(426.00,330.70) rotate(-45)">Teri</text>
<line x1="436.65" y1="318.70" x2="436.65" y2="321.50" stroke="#231f20" stroke-width="1.0"/>
<text x="0.00" y="0.00" font-size="7.4" fill="#231f20" text-anchor="end" stroke="#231f20" stroke-width="0.15" transform="translate(439.45,330.70) rotate(-45)">Vehicle</text>
<line x1="450.10" y1="318.70" x2="450.10" y2="321.50" stroke="#231f20" stroke-width="1.0"/>
<text x="0.00" y="0.00" font-size="7.4" fill="#231f20" text-anchor="end" stroke="#231f20" stroke-width="0.15" transform="translate(452.90,330.70) rotate(-45)">Ven</text>
<line x1="463.55" y1="318.70" x2="463.55" y2="321.50" stroke="#231f20" stroke-width="1.0"/>
<text x="0.00" y="0.00" font-size="7.4" fill="#231f20" text-anchor="end" stroke="#231f20" stroke-width="0.15" transform="translate(466.35,330.70) rotate(-45)">Teri</text>
<line x1="477.00" y1="318.70" x2="477.00" y2="321.50" stroke="#231f20" stroke-width="1.0"/>
<text x="0.00" y="0.00" font-size="7.4" fill="#231f20" text-anchor="end" stroke="#231f20" stroke-width="0.15" transform="translate(479.80,330.70) rotate(-45)">Vehicle</text>
<line x1="490.45" y1="318.70" x2="490.45" y2="321.50" stroke="#231f20" stroke-width="1.0"/>
<text x="0.00" y="0.00" font-size="7.4" fill="#231f20" text-anchor="end" stroke="#231f20" stroke-width="0.15" transform="translate(493.25,330.70) rotate(-45)">Ven</text>
<line x1="503.90" y1="318.70" x2="503.90" y2="321.50" stroke="#231f20" stroke-width="1.0"/>
<text x="0.00" y="0.00" font-size="7.4" fill="#231f20" text-anchor="end" stroke="#231f20" stroke-width="0.15" transform="translate(506.70,330.70) rotate(-45)">Teri</text>
<text x="449.50" y="199.30" font-size="7.6" fill="#4aa9dc" text-anchor="middle" stroke="#4aa9dc" stroke-width="0.15" font-style="italic">dCTP</text>
<path d="M390.70,219.00 Q390.70,216.40 392.90,216.40 L424.80,216.40 Q427.00,216.40 427.00,219.00" fill="none" stroke="#231f20" stroke-width="1"/>
<text x="408.85" y="211.30" font-size="7.9" fill="#231f20" text-anchor="middle" stroke="#231f20" stroke-width="0.15">THP1</text>
<path d="M431.00,219.00 Q431.00,216.40 433.20,216.40 L465.40,216.40 Q467.60,216.40 467.60,219.00" fill="none" stroke="#231f20" stroke-width="1"/>
<text x="449.30" y="211.30" font-size="7.9" fill="#231f20" text-anchor="middle" stroke="#231f20" stroke-width="0.15">MOLM13</text>
<path d="M471.20,219.00 Q471.20,216.40 473.40,216.40 L505.40,216.40 Q507.60,216.40 507.60,219.00" fill="none" stroke="#231f20" stroke-width="1"/>
<text x="489.40" y="211.30" font-size="7.9" fill="#231f20" text-anchor="middle" stroke="#231f20" stroke-width="0.15">K562</text>
<text x="0.00" y="0.00" font-size="8.8" fill="#231f20" text-anchor="middle" stroke="#231f20" stroke-width="0.3" textLength="52.80" lengthAdjust="spacingAndGlyphs" transform="translate(364.30,270.00) rotate(-90)">dCTP pM/10<tspan font-size="6.0" dy="-3.3">6</tspan><tspan dy="3.3"> cells</tspan></text>
<rect x="393.90" y="244.90" width="4.8" height="4.8" fill="#d4176f"/>
<rect x="393.90" y="265.60" width="4.8" height="4.8" fill="#d4176f"/>
<rect x="393.90" y="285.80" width="4.8" height="4.8" fill="#d4176f"/>
<line x1="396.30" y1="247.30" x2="396.30" y2="288.20" stroke="#231f20" stroke-width="1.0"/>
<line x1="391.70" y1="268.40" x2="400.90" y2="268.40" stroke="#231f20" stroke-width="1.3"/>
<line x1="393.90" y1="247.30" x2="398.70" y2="247.30" stroke="#231f20" stroke-width="1.0"/>
<line x1="393.90" y1="288.20" x2="398.70" y2="288.20" stroke="#231f20" stroke-width="1.0"/>
<rect x="407.40" y="229.40" width="4.8" height="4.8" fill="#d4176f"/>
<rect x="405.40" y="287.10" width="4.8" height="4.8" fill="#d4176f"/>
<rect x="409.80" y="286.60" width="4.8" height="4.8" fill="#d4176f"/>
<line x1="409.75" y1="237.50" x2="409.75" y2="302.30" stroke="#231f20" stroke-width="1.0"/>
<line x1="405.15" y1="270.20" x2="414.35" y2="270.20" stroke="#231f20" stroke-width="1.3"/>
<line x1="407.35" y1="237.50" x2="412.15" y2="237.50" stroke="#231f20" stroke-width="1.0"/>
<line x1="407.35" y1="302.30" x2="412.15" y2="302.30" stroke="#231f20" stroke-width="1.0"/>
<rect x="420.90" y="251.30" width="4.8" height="4.8" fill="#d4176f"/>
<rect x="420.90" y="277.60" width="4.8" height="4.8" fill="#d4176f"/>
<rect x="420.90" y="287.40" width="4.8" height="4.8" fill="#d4176f"/>
<line x1="423.20" y1="253.70" x2="423.20" y2="289.80" stroke="#231f20" stroke-width="1.0"/>
<line x1="418.60" y1="275.20" x2="427.80" y2="275.20" stroke="#231f20" stroke-width="1.3"/>
<line x1="420.80" y1="253.70" x2="425.60" y2="253.70" stroke="#231f20" stroke-width="1.0"/>
<line x1="420.80" y1="289.80" x2="425.60" y2="289.80" stroke="#231f20" stroke-width="1.0"/>
<text x="0.00" y="0.00" font-size="7.4" fill="#231f20" text-anchor="middle" stroke="#231f20" stroke-width="0.15" transform="translate(427.20,236.30) rotate(-90)"><tspan font-style="italic">P</tspan> = .06</text>
<polygon points="436.40,266.34 439.20,271.94 433.60,271.94" fill="#f39c2a"/>
<polygon points="436.40,284.24 439.20,289.84 433.60,289.84" fill="#f39c2a"/>
<polygon points="436.40,300.14 439.20,305.74 433.60,305.74" fill="#f39c2a"/>
<line x1="436.65" y1="269.70" x2="436.65" y2="303.50" stroke="#231f20" stroke-width="1.0"/>
<line x1="432.05" y1="287.00" x2="441.25" y2="287.00" stroke="#231f20" stroke-width="1.3"/>
<line x1="434.25" y1="269.70" x2="439.05" y2="269.70" stroke="#231f20" stroke-width="1.0"/>
<line x1="434.25" y1="303.50" x2="439.05" y2="303.50" stroke="#231f20" stroke-width="1.0"/>
<polygon points="449.80,282.74 452.60,288.34 447.00,288.34" fill="#f39c2a"/>
<polygon points="448.00,299.64 450.80,305.24 445.20,305.24" fill="#f39c2a"/>
<polygon points="451.00,299.64 453.80,305.24 448.20,305.24" fill="#f39c2a"/>
<line x1="450.10" y1="286.10" x2="450.10" y2="303.00" stroke="#231f20" stroke-width="1.0"/>
<line x1="445.50" y1="296.80" x2="454.70" y2="296.80" stroke="#231f20" stroke-width="1.3"/>
<line x1="447.70" y1="286.10" x2="452.50" y2="286.10" stroke="#231f20" stroke-width="1.0"/>
<line x1="447.70" y1="303.00" x2="452.50" y2="303.00" stroke="#231f20" stroke-width="1.0"/>
<polygon points="463.20,298.44 466.00,304.04 460.40,304.04" fill="#f39c2a"/>
<polygon points="462.00,301.84 464.80,307.44 459.20,307.44" fill="#f39c2a"/>
<polygon points="463.40,307.24 466.20,312.84 460.60,312.84" fill="#f39c2a"/>
<line x1="463.55" y1="300.80" x2="463.55" y2="310.60" stroke="#231f20" stroke-width="1.0"/>
<line x1="459.55" y1="305.40" x2="467.55" y2="305.40" stroke="#231f20" stroke-width="1.3"/>
<line x1="461.35" y1="300.80" x2="465.75" y2="300.80" stroke="#231f20" stroke-width="1.0"/>
<line x1="461.35" y1="310.60" x2="465.75" y2="310.60" stroke="#231f20" stroke-width="1.0"/>
<text x="0.00" y="0.00" font-size="7.4" fill="#231f20" text-anchor="middle" stroke="#231f20" stroke-width="0.15" transform="translate(465.80,282.60) rotate(-90)"><tspan font-style="italic">P</tspan> = .05</text>
<circle cx="477.00" cy="247.70" r="2.75" fill="#d4176f"/>
<circle cx="477.00" cy="254.10" r="2.75" fill="#d4176f"/>
<line x1="473.00" y1="251.30" x2="481.00" y2="251.30" stroke="#231f20" stroke-width="1.0"/>
<circle cx="491.80" cy="255.50" r="2.75" fill="#d4176f"/>
<circle cx="488.40" cy="257.60" r="2.75" fill="#d4176f"/>
<line x1="486.40" y1="256.50" x2="494.00" y2="256.50" stroke="#231f20" stroke-width="1.0"/>
<circle cx="503.90" cy="280.10" r="2.75" fill="#d4176f"/>
<circle cx="503.90" cy="285.00" r="2.75" fill="#d4176f"/>
<line x1="499.90" y1="282.30" x2="507.90" y2="282.30" stroke="#231f20" stroke-width="1.0"/>
<text x="0.00" y="0.00" font-size="7.4" fill="#231f20" text-anchor="middle" stroke="#231f20" stroke-width="0.15" transform="translate(507.40,257.60) rotate(-90)"><tspan font-style="italic">P</tspan> = .005</text>
<rect x="0.5" y="0.5" width="519" height="354" fill="none" stroke="#4a4a4a" stroke-width="1"/>
</svg>
</body></html>
